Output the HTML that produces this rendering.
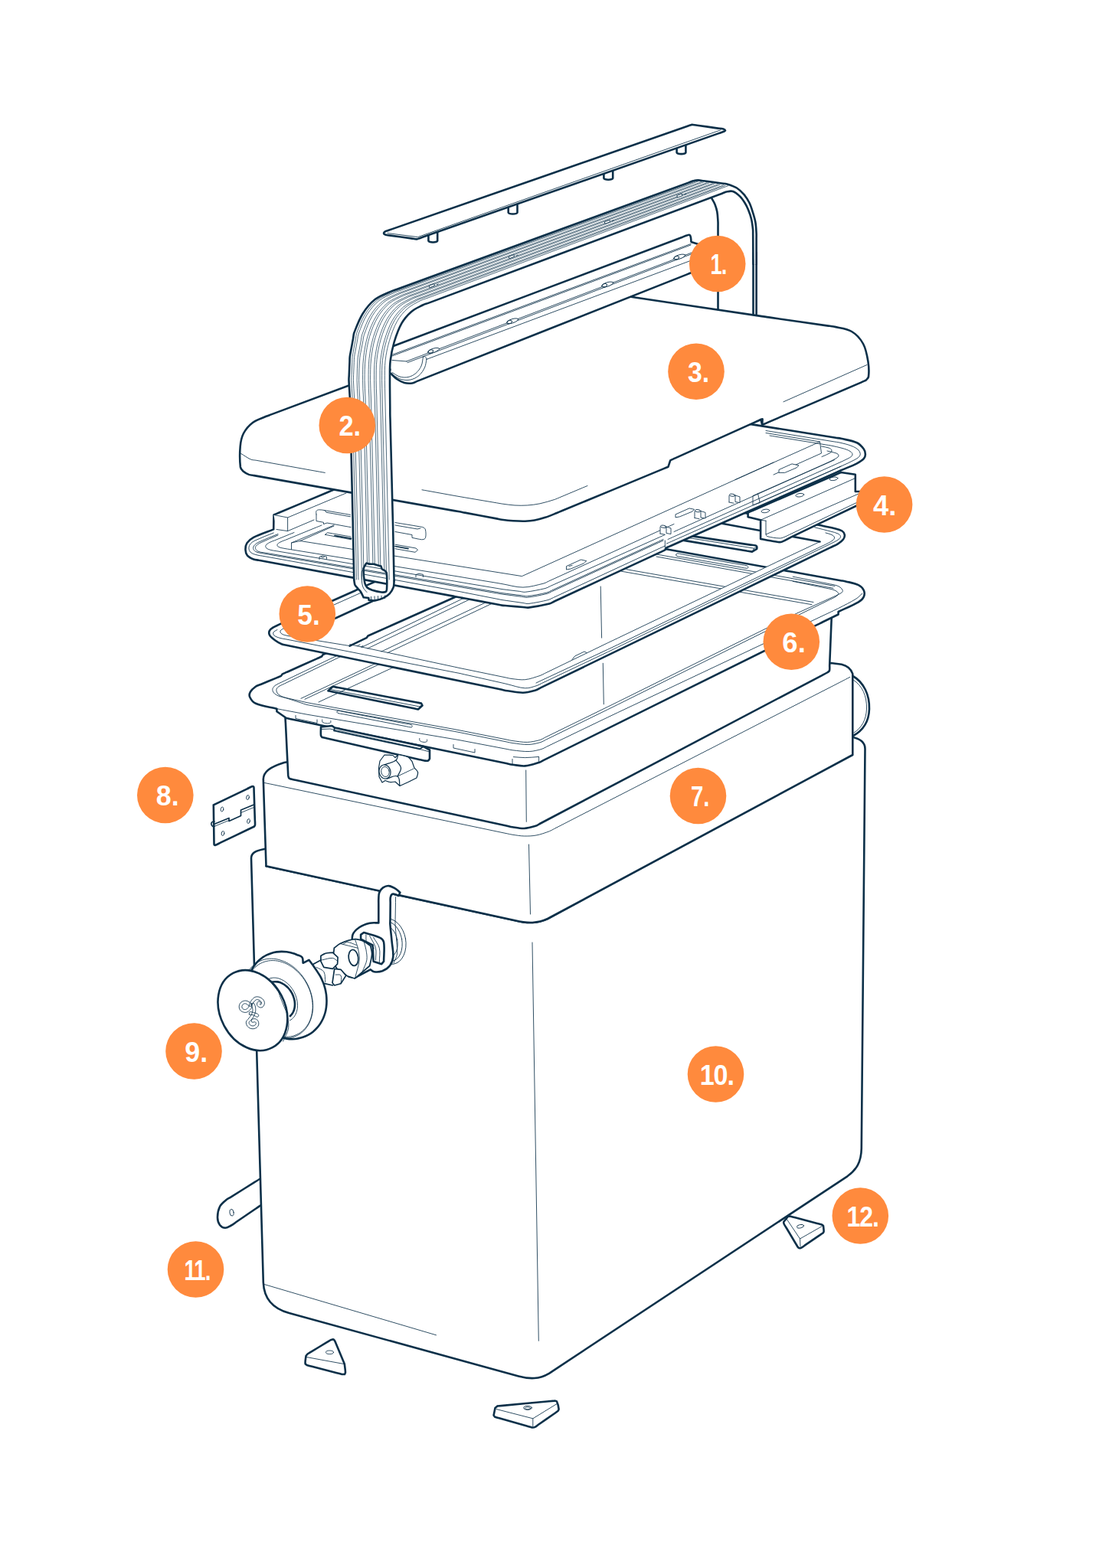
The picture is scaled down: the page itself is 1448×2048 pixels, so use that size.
<!DOCTYPE html>
<html lang="en">
<head>
<meta charset="utf-8">
<title>Exploded view</title>
<style>
html,body{margin:0;padding:0;background:#fff;}
body{width:1448px;height:2048px;overflow:hidden;font-family:"Liberation Sans",sans-serif;}
svg{display:block;}
.k{stroke:#0c3049;stroke-width:2.6;fill:none;stroke-linecap:round;stroke-linejoin:round;}
.m{stroke:#0c3049;stroke-width:1.7;fill:none;stroke-linecap:round;stroke-linejoin:round;}
.t{stroke:#0c3049;stroke-width:0.85;fill:none;stroke-linecap:round;stroke-linejoin:round;}
.r{stroke:#0c3049;stroke-width:0.7;fill:none;stroke-linecap:round;stroke-linejoin:round;}
.h{stroke:#0c3049;stroke-width:1.2;fill:none;stroke-linecap:round;stroke-linejoin:round;}
.w{fill:#fff;}
.d{fill:#0c3049;}
.nf{stroke:none;fill:#fff;}
.dot{fill:#ff8a3d;}
.num{font-family:"Liberation Sans",sans-serif;font-weight:700;font-size:37px;fill:#fff;text-anchor:middle;}
</style>
</head>
<body>
<svg width="1448" height="2048" viewBox="0 0 1448 2048">
<rect x="0" y="0" width="1448" height="2048" fill="#fff"/>
<g id="tab11">
<path class="k w" d="M339,1540 C337,1541.2 335,1542.5 333.1,1543.7 C322.4,1550.4 311.6,1557.1 300.9,1563.8 C299,1565 296.8,1566 295,1567.5 C292.1,1570.1 288.7,1572.5 287,1576 C284.9,1580.3 284,1585.2 284,1590 C284,1593.5 285,1597.2 287,1600 C288.6,1602.1 291.3,1603.7 294,1603.8 C296.9,1603.9 299.4,1601.8 302,1600.5 C304.1,1599.4 305.9,1597.9 307.8,1596.5 C316.6,1590.5 325.4,1584.5 334.2,1578.5 C336.1,1577.1 338.1,1575.8 340,1574.5"/>
<ellipse class="t" cx="302.5" cy="1583.7" rx="2.6" ry="4.4" transform="rotate(-8 302.5 1583.7)"/>
</g>
<g id="body10">
<path class="k w" d="M345,1109 C334,1111 328,1114 328,1121 L343.8,1675 C344.5,1692 353,1708.5 377.5,1715 L677,1797.5 C692,1801.5 704,1801.5 717,1793.8 L1106.5,1536.3 C1118,1528 1124.5,1518 1124.8,1500 L1129.5,978 C1129.5,969 1123,964.5 1111,962.5 Z"/>
<path class="k" d="M347.5,1131.3 L672.5,1202.2 C690,1206.5 702,1206 715,1200 L1111,986.3"/>
<path class="t" d="M695,1231 L703.3,1751.3"/>
<path class="t" d="M345,1677.5 L569.5,1743.8"/>

<path class="t" d="M722,1193.3 L1111,983.6"/>
</g>
<g id="shell7">
<path class="k w" d="M347.5,1131.3 L343.8,1018 C344,1008 352,1002 371,996 L1085,866 L1098.8,867.8 C1106,869.5 1111,873 1113.3,880.2 L1113.3,986 L715,1200 C702,1206 690,1206.5 672.5,1202.2 Z"/>
<path class="k" d="M1113.5,883 C1128,891 1135.5,908 1135,926 C1134.5,942 1127,954 1114,961"/>
<path class="t" d="M1114,888 C1126,895.5 1132,909 1131.5,926 C1131,940 1125,951 1115,957"/>
<path class="t" d="M345.5,1022.5 C347.8,1023 350.1,1023.5 352.4,1023.9 C455.6,1045.5 558.9,1067.2 662.1,1088.8 C664.4,1089.2 666.7,1089.9 669,1090.2 C674.1,1090.9 679.2,1091.9 684.3,1092 C689.5,1092.1 694.8,1092 700,1091 C706,1089.9 711.7,1087.8 717.4,1085.7 C719.6,1084.9 721.6,1083.6 723.6,1082.5 C850.3,1017.5 976.9,952.6 1103.6,887.6 C1105.6,886.5 1107.7,885.5 1109.8,884.4"/>
<path class="t" d="M690.5,1103 L692.5,1194"/>
</g>
<g id="tray6">
<path class="k w" d="M372.5,937.5 C372.6,939.8 372.7,942.2 372.9,944.5 C373.9,965 374.9,985.5 375.9,1006 C376.1,1008.3 376,1010.7 376.3,1013 C376.5,1014.2 376.6,1015.6 377.5,1016.5 C378.4,1017.4 379.8,1017.5 381,1017.8 C383.3,1018.4 385.6,1018.8 387.8,1019.3 C479.3,1039.1 570.7,1058.9 662.2,1078.7 C664.4,1079.2 666.7,1079.9 669,1080.2 C674.1,1081 679.2,1082.2 684.3,1082 C689.4,1081.8 694.5,1080.3 699.4,1078.8 C701.6,1078.1 703.5,1076.6 705.6,1075.5 C828.3,1010.9 951.1,946.4 1073.8,881.8 C1075.9,880.7 1078,879.7 1080,878.5 C1081.1,877.8 1082.5,877.2 1082.9,876 C1083.6,873.8 1083.1,871.3 1083.2,869 C1083.9,851 1084.7,833 1085.4,815 C1085.5,812.7 1085.6,810.3 1085.7,808 L1080,790 C1077.7,789.5 1075.4,789 1073.2,788.5 C972.1,766.2 870.9,743.8 769.8,721.5 C767.6,721 765.3,720.5 763,720 C760.9,721 758.8,722.1 756.7,723.1 C639.9,781 523.1,839 406.3,896.9 C404.2,897.9 402.1,899 400,900 C398.6,901.9 397.2,903.8 395.9,905.6 C389.5,914.4 383,923.1 376.6,931.9 C375.3,933.7 373.9,935.6 372.5,937.5"/>
<path class="t" d="M686.7,1006 L687.3,1073.3"/>
<path class="k w" d="M1027,745.6 C1029.3,746 1031.6,746.4 1033.9,746.8 C1055.1,750.6 1076.2,754.4 1097.4,758.2 C1099.7,758.6 1102,758.8 1104.3,759.4 C1109.9,760.8 1115.7,761.6 1120.9,764.2 C1123.8,765.6 1126.5,768.1 1127.8,771.1 C1128.9,773.6 1128.9,776.9 1127.8,779.4 C1126.5,782.4 1123.7,784.6 1120.9,786.3 C1112.5,791.2 1103.4,794.8 1094.6,799 L1094.6,802.5 L1074,812.5 C1071.9,813.5 1069.8,814.6 1067.7,815.6 C948.4,874.7 829.2,933.8 709.9,992.9 C707.8,993.9 705.8,995.3 703.6,996 C697.7,997.8 691.8,999.9 685.6,1000.4 C680.1,1000.8 674.5,999.4 669,998.7 C666.7,998.4 664.4,997.8 662.1,997.3 C568.4,978 474.6,958.7 380.9,939.4 C378.6,938.9 376.3,938.5 374,938 L361.4,929.2 L361.4,925.7 C352.2,923.4 342.5,922.6 333.8,918.8 C330.4,917.3 327.8,913.9 326.2,910.5 C325.2,908.4 325.8,905.6 326.9,903.6 C328.5,900.8 331.2,898.6 333.8,896.7 C335.7,895.3 338.1,894.9 340.3,894 C347,891.2 353.8,888.4 360.5,885.6 C362.7,884.7 364.8,883.8 367,882.9 L368.5,880.6 C370.6,879.6 372.8,878.7 374.9,877.7 C387.8,871.9 400.7,866.2 413.6,860.4 C415.7,859.4 417.9,858.5 420,857.5 L421.5,855.2 C423.6,854.2 425.7,853.2 427.9,852.3 C537.5,801.8 647,751.4 756.6,700.9 C758.8,700 760.9,699 763,698 C765.3,698.4 767.6,698.8 769.9,699.2 C853.3,714.3 936.7,729.3 1020.1,744.4 C1022.4,744.8 1024.7,745.2 1027,745.6"/>
<path class="t" d="M361.4,925.7 C363.7,926.1 366,926.6 368.3,927 C376.6,928.6 384.8,930.1 393.1,931.7 C395.4,932.1 397.7,932.6 400,933 C402.3,933.4 404.6,933.8 406.9,934.2 C469,944.6 531,955.1 593.1,965.5 C595.4,965.9 597.7,966.3 600,966.7 C602.3,967.1 604.6,967.6 606.9,968 C625.3,971.5 643.7,975 662.1,978.5 C664.4,978.9 666.7,979.6 669,979.8 C676.4,980.6 683.8,981.8 691.2,981.5 C696.6,981.3 701.8,979.9 707,978.5 C709.3,977.9 711.2,976.5 713.3,975.5 C740.1,962.6 766.9,949.7 793.7,936.8 C795.8,935.8 797.9,934.8 800,933.8 C802.1,932.8 804.2,931.8 806.3,930.8 C900.3,886.4 994.3,842 1088.3,797.6 C1090.4,796.6 1092.5,795.7 1094.6,794.6 C1102.4,790.5 1110.5,786.7 1118,782 C1120.9,780.2 1123.1,777.5 1125.7,775.2"/>
<path class="t" d="M470,842 C467.9,843 465.8,844 463.7,845 C431.7,860.3 399.7,875.7 367.7,891 C365.6,892 363.4,892.8 361.4,894 C359.8,895 358.1,896 357,897.5 C356.2,898.6 355.7,900.1 355.9,901.5 C356.2,903.2 357.2,904.9 358.5,906 C360.3,907.6 362.7,908.6 365,909.5 C367.2,910.3 369.5,910.5 371.8,911.1 C378.9,912.7 386.1,914.3 393.2,915.9 C395.5,916.5 397.7,917 400,917.5 C402.3,918 404.6,918.3 406.9,918.8 C469,930 531,941.3 593.1,952.5 C595.4,953 597.7,953.4 600,953.8 C602.3,954.2 604.6,954.7 606.9,955.2 C625.3,958.8 643.7,962.5 662.1,966.1 C664.4,966.6 666.7,967.2 669,967.5 C675.4,968.3 681.9,969.6 688.4,969.4 C694,969.2 699.6,967.9 705,966.5 C707.3,965.9 709.2,964.4 711.3,963.4 C738.8,950 766.2,936.5 793.7,923.1 C795.8,922.1 797.9,921 800,920 C802.1,919 804.2,917.9 806.3,916.9 C881.9,879.5 957.5,842 1033.1,804.6 C1035.2,803.6 1037.3,802.5 1039.4,801.5 C1041.5,800.5 1043.7,799.6 1045.8,798.6 C1059.9,792.2 1074.1,785.9 1088.2,779.5 C1090.3,778.5 1092.5,777.7 1094.6,776.6 C1096.3,775.7 1098.1,774.9 1099.5,773.5 C1100.1,772.9 1100.5,771.9 1100.2,771.1 C1099.6,769.5 1098.4,768 1097,767 C1095.1,765.6 1092.8,764.9 1090.5,764.2 C1088.3,763.5 1085.9,763.3 1083.6,762.8 C1069.8,760 1055.9,757.3 1042.1,754.5 C1039.8,754 1037.5,753.6 1035.2,753.1"/>
<path class="t" d="M474,843.5 C471.9,844.5 469.8,845.5 467.7,846.5 C435.6,862 403.4,877.5 371.3,893 C369.2,894 367,894.8 365,896 C363.7,896.8 362.3,897.7 361.5,899 C360.9,900 360.7,901.4 361,902.5 C361.4,904.2 362.2,905.9 363.5,907 C365.3,908.6 367.7,909.5 370,910.5 C372.1,911.4 374.4,911.9 376.7,912.7 C382.2,914.5 387.8,916.3 393.3,918.1 C395.6,918.9 397.7,919.7 400,920.3 C402.3,920.9 404.6,921.1 406.9,921.6 C469,932.8 531,944.1 593.1,955.3 C595.4,955.8 597.7,956.2 600,956.6 C602.3,957 604.6,957.5 606.9,958 C625.3,961.7 643.7,965.4 662.1,969.1 C664.4,969.6 666.7,970.2 669,970.5 C675.9,971.3 682.8,972.7 689.8,972.5 C695.3,972.4 700.7,970.9 706,969.5 C708.3,968.9 710.2,967.4 712.3,966.4 C739.4,953.1 766.6,939.9 793.7,926.6 C795.8,925.6 797.9,924.5 800,923.5 C802.1,922.5 804.2,921.4 806.3,920.4 C881.1,883.3 955.9,846.2 1030.7,809.1 C1032.8,808.1 1034.9,807 1037,806 C1039.1,805 1041.2,803.9 1043.3,802.9 C1056.8,796.3 1070.2,789.7 1083.7,783.1 C1085.8,782.1 1088,781.2 1090,780 C1091.4,779.2 1092.9,778.3 1094,777 C1094.5,776.3 1094.9,775.2 1094.5,774.5 C1093.8,773.2 1092.4,772.2 1091,771.5 C1089.1,770.5 1087,770 1085,769.5 C1082.7,768.9 1080.4,768.6 1078.1,768.1 C1066.1,765.6 1054.1,763.2 1042.1,760.7 C1039.8,760.2 1037.5,759.8 1035.2,759.3"/>
<path class="t" d="M670.4,988.6 C675.5,988.9 680.5,989.6 685.6,989.6 C691.6,989.6 697.6,988.8 703.6,988.4"/>
<path class="t" d="M784.2,766 L785.6,833.1"/>
<path class="t" d="M787.3,866.3 L788.3,919.8"/>
<path class="t" d="M856.2,723.8 L1090,765.5"/>
<path class="t" d="M857,727 L1088,768.3"/>
<path class="t" d="M882.8,724.5 C883.2,723.9 883.3,722.8 884,722.8 C886.3,722.7 888.6,723.6 890.9,724 C916.6,728.5 942.4,733.1 968.1,737.6 C970.4,738 972.8,738 975,738.8 C975.9,739.2 977,740 977,741 C977,741.8 975.8,742.3 975,742.3 C972.7,742.3 970.4,741.5 968.1,741.1 C942.2,736.6 916.3,732 890.4,727.5 C888.1,727.1 885.7,727.2 883.5,726.3 C882.9,726.1 883,725.1 882.8,724.5"/>
<path class="t" d="M811.5,746.2 L1060,789.7"/>
<path class="t" d="M818,743.7 L1062,786.5"/>
<path class="k w" d="M428.5,902.3 L434.5,896.7 C436.8,897.1 439.1,897.6 441.4,898 C475.3,904.4 509.2,910.8 543.1,917.2 C545.4,917.6 547.7,918.1 550,918.5 L551.5,921.5 L546,926.5 C543.7,926 541.4,925.6 539.1,925.1 C504.5,918 470,910.8 435.4,903.7 C433.1,903.2 430.8,902.8 428.5,902.3"/>
<path class="t" d="M432,900.6 L548.2,923"/>
<path class="t" d="M546.5,926 L548.5,922.3 L551,921"/>
<path class="t" d="M393,912.3 L500,862"/>
<path class="t" d="M398,913.3 L505,863"/>
<path class="t" d="M416,917 L530,864"/>
<path class="t" d="M386,934.5 L386,938.5 L414,944.5 L414,940"/>
<path class="t" d="M420.7,940 C420.8,941 420.3,942.3 421,943 C422.3,944.2 424.2,944.6 426,944.8 C427.8,945 429.9,944.9 431.5,944 C432.2,943.6 431.7,942.3 431.8,941.5"/>
<path class="t" d="M440,929.8 C440.3,929.3 440.4,928.2 441,928.2 C443.3,928.1 445.6,929.1 447.9,929.5 C475.3,934.8 502.7,940 530.1,945.3 C532.4,945.7 534.8,945.7 537,946.6 C537.7,946.9 538.3,947.8 538.3,948.6 C538.3,949.2 537.6,950 537,950 C534.7,950 532.4,949.1 530.1,948.7 C502.7,943.4 475.3,938 447.9,932.7 C445.6,932.3 443.2,932.2 441,931.4 C440.4,931.2 440.3,930.3 440,929.8"/>
<path class="t" d="M592,972.5 L592,977 L620,983 L620,978.5"/>
<path class="t" d="M547.8,964.5 C547.9,965.5 547.5,966.8 548.2,967.5 C549.5,968.7 551.3,969.1 553,969.3 C554.4,969.5 556.1,969.4 557.3,968.5 C558,968 557.4,966.8 557.5,966"/>
<path class="t" d="M669,998.7 L669,991.5"/>
<path class="t" d="M703.6,996 L703.6,989"/>
<path class="k w" d="M419,949.5 C419,953.2 418.6,956.9 419,960.5 C419.1,961.5 420,962.2 420.5,963 C422.8,963.5 425,964 427.3,964.6 C467.3,973.7 507.2,982.8 547.2,991.9 C549.5,992.5 551.7,993.2 554,993.5 C555.7,993.7 557.4,994.1 559,993.5 C560,993.1 560.3,991.8 561,991 L561,979.5 L553,975 C550.7,974.5 548.4,974 546.2,973.6 C512.1,966.4 477.9,959.1 443.8,951.9 C441.6,951.5 439.3,951 437,950.5 L433.5,948 L419,949.5"/>
<path class="m" d="M437,950.5 L436,954.5 L548,978.5 L553,975"/>
<path class="t" d="M419,952.5 L431,952 L548,977.5"/>
<path class="t" d="M548,978.5 L561,982"/>
<path class="h w" d="M494.5,1003 L496,994 L502,986 C505.5,986.2 509.1,985.7 512.5,986.5 C514,986.9 514.8,988.5 516,989.5 L520,985.5 C524.3,986.7 529,987 533,989 C535.2,990.1 536.3,992.7 538,994.5 L541,1003 C542.5,1004.8 545,1006.2 545.5,1008.5 C546.1,1011 544.5,1013.5 544,1016 L533,1021.5 L522,1026.5 L516,1021 C513.7,1021.2 511.3,1021.8 509,1021.5 C506.9,1021.3 505,1020.2 503,1019.5 L499,1022 L495,1014.5 L494.5,1003"/>
<ellipse class="h w" cx="502.5" cy="1008" rx="7.4" ry="9.2" transform="rotate(-12 502.5 1008)"/>
<ellipse class="t" cx="503" cy="1008" rx="5.2" ry="6.6" transform="rotate(-12 503 1008)"/>
<path class="h" d="M502,998.8 C507,996.9 512.7,996.2 517,993 C519.2,991.4 519,988 520,985.5"/>
<path class="h" d="M505,1017.2 C509.7,1016.1 514.8,1011.7 519,1014 C522.8,1016.1 521,1022.3 522,1026.5"/>
<path class="h" d="M517,993 C519.2,996.3 523.1,999 523.5,1003 C523.9,1006.9 520.5,1010.3 519,1014"/>
<path class="t" d="M519,1014 L540,1004"/>
</g>
<g id="frame5">
<path class="nf" fill-rule="evenodd" d="M1000,674.5 C1002.3,674.9 1004.6,675.3 1006.9,675.6 C1025.8,678.7 1044.7,681.9 1063.6,685 C1065.9,685.3 1068.2,685.6 1070.5,686.1 C1076.9,687.4 1083.4,688.6 1089.8,690.2 C1093.1,691 1096.6,691.7 1099.5,693.5 C1101.2,694.6 1102.5,696.5 1102.8,698.5 C1103.1,700.6 1102.2,702.8 1101,704.5 C1099.2,706.9 1096.6,708.7 1094,710.3 C1091,712.2 1087.5,713.5 1084.3,715.1 C1082.2,716.1 1080.1,717.1 1078,718.2 C953.9,778.3 829.8,838.3 705.7,898.4 C703.6,899.5 701.7,900.9 699.4,901.5 C694,903 688.5,904.6 682.9,904.7 C676,904.8 669.1,903.2 662.2,902.2 C659.9,901.9 657.6,901.3 655.3,900.8 C561.9,881.5 468.6,862.2 375.2,842.9 C372.9,842.4 370.5,842.4 368.3,841.5 C364.9,840.1 361.6,838.2 358.7,836 C356.1,834 353,832.1 351.8,829.1 C350.9,826.9 351.5,823.9 353.1,822.2 C356.5,818.8 361.4,817.4 365.6,815.2 C367.7,814.1 369.9,813.3 372,812.3 C402.7,798.6 433.5,784.9 464.2,771.2 C466.3,770.2 468.5,769.3 470.6,768.3 C472.7,767.3 474.9,766.4 477,765.4 C571.5,723.2 666.1,681.1 760.6,638.9 C762.7,637.9 764.9,637 767,636 C769.3,636.4 771.6,636.8 773.9,637.1 C847,649.2 920,661.3 993.1,673.4 C995.4,673.7 997.7,674.1 1000,674.5 Z M940,683.2 C942.3,683.6 944.6,684.1 946.9,684.5 C985.8,691.7 1024.7,699 1063.6,706.2 C1065.9,706.6 1068.2,707.1 1070.5,707.5 C1068.4,708.5 1066.3,709.5 1064.2,710.5 C1051.6,716.4 1038.9,722.4 1026.3,728.3 C1024.2,729.3 1022.1,730.3 1020,731.3 C1017.9,732.3 1015.8,733.3 1013.7,734.3 C944.6,767.4 875.4,800.5 806.3,833.6 C804.2,834.6 802.1,835.6 800,836.6 C797.9,837.6 795.8,838.6 793.7,839.6 C766.2,852.9 738.8,866.2 711.3,879.5 C709.2,880.5 707.2,881.8 705,882.5 C698.6,884.5 692.3,887 685.6,887.7 C679.8,888.3 673.8,887.1 668,886.5 C665.7,886.3 663.4,885.6 661.1,885.1 C643,881.4 625,877.6 606.9,873.9 C604.6,873.4 602.3,873 600,872.5 C597.7,872 595.4,871.5 593.2,871 C550,861.7 506.7,852.5 463.5,843.2 C461.3,842.7 459,842.2 456.7,841.7 C458.8,840.7 460.9,839.7 463,838.7 C574.6,786.8 686.1,734.9 797.7,683 C799.8,682 801.9,681 804,680 C806.3,679.5 808.6,679.1 810.9,678.6 C825,675.7 839,672.8 853.1,669.9 C855.4,669.4 857.7,669 860,668.5 C862.3,668.9 864.6,669.3 866.9,669.8 C889,673.8 911,677.9 933.1,681.9 C935.4,682.4 937.7,682.8 940,683.2 Z"/>
<path class="k" d="M1000,674.5 C1002.3,674.9 1004.6,675.3 1006.9,675.6 C1025.8,678.7 1044.7,681.9 1063.6,685 C1065.9,685.3 1068.2,685.6 1070.5,686.1 C1076.9,687.4 1083.4,688.6 1089.8,690.2 C1093.1,691 1096.6,691.7 1099.5,693.5 C1101.2,694.6 1102.5,696.5 1102.8,698.5 C1103.1,700.6 1102.2,702.8 1101,704.5 C1099.2,706.9 1096.6,708.7 1094,710.3 C1091,712.2 1087.5,713.5 1084.3,715.1 C1082.2,716.1 1080.1,717.1 1078,718.2 C953.9,778.3 829.8,838.3 705.7,898.4 C703.6,899.5 701.7,900.9 699.4,901.5 C694,903 688.5,904.6 682.9,904.7 C676,904.8 669.1,903.2 662.2,902.2 C659.9,901.9 657.6,901.3 655.3,900.8 C561.9,881.5 468.6,862.2 375.2,842.9 C372.9,842.4 370.5,842.4 368.3,841.5 C364.9,840.1 361.6,838.2 358.7,836 C356.1,834 353,832.1 351.8,829.1 C350.9,826.9 351.5,823.9 353.1,822.2 C356.5,818.8 361.4,817.4 365.6,815.2 C367.7,814.1 369.9,813.3 372,812.3 C402.7,798.6 433.5,784.9 464.2,771.2 C466.3,770.2 468.5,769.3 470.6,768.3 C472.7,767.3 474.9,766.4 477,765.4 C571.5,723.2 666.1,681.1 760.6,638.9 C762.7,637.9 764.9,637 767,636 C769.3,636.4 771.6,636.8 773.9,637.1 C847,649.2 920,661.3 993.1,673.4 C995.4,673.7 997.7,674.1 1000,674.5"/>
<path class="t" d="M1070.5,707.5 C1068.4,708.5 1066.3,709.5 1064.2,710.5 C1051.6,716.4 1038.9,722.4 1026.3,728.3 C1024.2,729.3 1022.1,730.3 1020,731.3 C1017.9,732.3 1015.8,733.3 1013.7,734.3 C944.6,767.4 875.4,800.5 806.3,833.6 C804.2,834.6 802.1,835.6 800,836.6 C797.9,837.6 795.8,838.6 793.7,839.6 C766.2,852.9 738.8,866.2 711.3,879.5 C709.2,880.5 707.2,881.8 705,882.5 C698.6,884.5 692.3,887 685.6,887.7 C679.8,888.3 673.8,887.1 668,886.5 C665.7,886.3 663.4,885.6 661.1,885.1 C643,881.4 625,877.6 606.9,873.9 C604.6,873.4 602.3,873 600,872.5 C597.7,872 595.4,871.5 593.2,871 C550,861.7 506.7,852.5 463.5,843.2 C461.3,842.7 459,842.2 456.7,841.7"/>
<path class="k" d="M940,683.2 L1070.5,707.5"/>
<path class="k" d="M456.7,843.6 L478.5,833.2 L480.5,830.5 L595,779.5 L640,758"/>
<path class="t" d="M362,822.5 C360.3,823.7 358,824.2 357,826 C356.4,827.2 356.9,829.1 358,830 C360.2,831.9 363.2,832.6 366,833.5 C368.2,834.2 370.6,834.4 372.9,834.8 C446.3,849.2 519.7,863.7 593.1,878.1 C595.4,878.5 597.7,878.9 600,879.4 C602.3,879.9 604.6,880.4 606.8,881 C622.9,884.6 639.1,888.3 655.2,891.9 C657.4,892.5 659.7,893 662,893.5 C669.9,895.3 677.5,898.4 685.6,898.8 C690.8,899.1 696,897 701,895.5 C703.2,894.8 705.2,893.5 707.3,892.5 C736.1,878.8 764.9,865.2 793.7,851.5 C795.8,850.5 797.9,849.5 800,848.5 C802.1,847.5 804.2,846.5 806.3,845.4 C896.4,801.6 986.6,757.9 1076.7,714.1 C1078.8,713 1080.9,712.1 1083,711 C1087,708.9 1091.3,707.2 1095,704.5 C1096.3,703.6 1097.7,702.1 1097.5,700.5 C1097.3,698.9 1095.5,697.7 1094,697 C1091.2,695.6 1088,695 1085,694.2 C1077.9,692.3 1070.7,690.6 1063.6,688.8"/>
<path class="t" d="M372,820 C370,821.3 367.1,821.9 366,824 C365.3,825.3 366.8,827.2 368,828 C370.3,829.5 373.3,829.8 376,830.5 C378.3,831.1 380.6,831.2 382.9,831.6 C405.2,835.2 427.5,838.9 449.8,842.5 C452.1,842.9 454.4,843.2 456.7,843.6"/>
<path class="t" d="M700,892 C702.1,891 704.2,890 706.3,889 C735.4,875.4 764.6,861.8 793.7,848.2 C795.8,847.2 797.9,846.2 800,845.2 C802.1,844.2 804.2,843.2 806.3,842.2 C894.1,799.8 981.9,757.4 1069.7,715 C1071.8,714 1073.9,713.1 1076,712 C1079.7,710.1 1083.6,708.5 1087,706 C1088.3,705.1 1089.7,703.6 1089.5,702 C1089.3,700.4 1087.5,699.3 1086,698.5 C1083.5,697.2 1080.7,696.8 1078,696"/>
<path class="t" d="M747,861.5 L750.5,857 L763,851 L766,852.5"/>
<path class="k w" d="M893,698.6 C895.3,698.9 897.6,699.3 899.9,699.6 C926.5,703.6 953,707.6 979.6,711.6 C981.9,711.9 984.3,712 986.5,712.6 C987.2,712.8 987.9,713.3 988.2,714 C988.6,714.9 988.2,715.9 988.2,716.8 L982,720.6 C979.7,720.2 977.4,719.8 975.1,719.5 C949.2,715.2 923.3,710.9 897.4,706.6 C895.1,706.3 892.8,705.9 890.5,705.5"/>
<path class="t" d="M893,701.5 L984.5,716.2 L988,714.5"/>
<path class="t" d="M984.5,716.2 L982.5,720"/>
<path class="k" d="M437.4,807.7 L505.1,776.6"/>
<path class="t" d="M436,790 L474,773"/>
<path class="t" d="M472,845.5 L606,781"/>
<path class="t" d="M480,847 L614,782.5"/>
<path class="t" d="M498,851 L636,786"/>
<path class="t" d="M506,852.7 L644,787.5"/>
</g>
<g id="bracket4">
<path class="k w" d="M976.6,669.5 L976.6,675.3 L993.1,679.2 L993.1,704 C1000.7,705.3 1008.3,707 1016,708 C1017.7,708.2 1019.4,708.2 1021,707.6 C1025.3,705.9 1029.1,703.4 1033.2,701.3 C1035.3,700.3 1037.4,699.3 1039.5,698.3 C1067.6,684.9 1095.6,671.4 1123.7,658 C1125.8,657 1127.9,656 1130,655 L1130,642 L1116.8,641.9 L1116.8,619.8 L1098.1,617 C1096,617.9 1093.8,618.9 1091.7,619.8 C1055.5,635.4 1019.2,651.1 983,666.7 C980.9,667.6 978.7,668.6 976.6,669.5"/>
<path class="t" d="M993.1,679.2 L1116.8,624.5"/>
<path class="t" d="M1000,680.2 L1000,698 L1130,641"/>
<path class="t" d="M1000,680.2 L993.1,679.2"/>
<path class="t" d="M1000,698 C1000.5,698.8 1000.6,700.2 1001.5,700.5 C1006.9,702 1012.4,702.8 1018,703 C1020.1,703.1 1022.1,702.2 1024,701.5 C1026.2,700.7 1028.2,699.5 1030.3,698.5 C1061.4,683.7 1092.6,668.8 1123.7,654 C1125.8,653 1127.9,652 1130,651"/>
<ellipse class="t" cx="999.4" cy="667.4" rx="5.4" ry="2.2" transform="rotate(-8 999.4 667.4)"/>
<ellipse class="t" cx="1044.3" cy="646.7" rx="5.4" ry="2.2" transform="rotate(-8 1044.3 646.7)"/>
<ellipse class="t" cx="1088.5" cy="625.3" rx="5.4" ry="2.2" transform="rotate(-8 1088.5 625.3)"/>
</g>
<g id="frame4">
<path class="k w" d="M972,552.8 C974.3,553.2 976.6,553.5 978.9,553.9 C1016.3,559.8 1053.8,565.8 1091.2,571.7 C1093.5,572.1 1095.8,572.3 1098.1,572.8 C1105,574.5 1112.3,575.3 1118.8,578.3 C1122.5,580 1125.4,583.3 1127.8,586.6 C1129.2,588.5 1129.9,591.1 1129.9,593.5 C1129.9,595.5 1129.2,597.6 1127.8,599.1 C1125.3,601.8 1122,603.6 1118.8,605.3 C1112.1,608.7 1105,611.3 1098.1,614.3 C1096,615.2 1093.8,616.2 1091.7,617.1 C1020.1,648.9 948.4,680.7 876.8,712.5 C874.7,713.4 872.5,714.4 870.4,715.3 L868.3,718.3 C866.2,719.3 864.1,720.3 862,721.3 C815.9,742.7 769.8,764.1 723.7,785.5 C721.6,786.5 719.7,788 717.4,788.5 C708.3,790.7 699.1,792.4 689.8,793.6 C687.5,793.9 685.2,793.2 682.8,793 C675.9,792.4 669.1,791.8 662.2,791.2 C659.8,791 657.5,790.9 655.2,790.6 C652.9,790.3 650.6,789.7 648.3,789.3 C634.5,786.7 620.7,784.1 606.9,781.5 C604.6,781.1 602.3,780.6 600,780.2 C597.7,779.8 595.4,779.4 593.1,778.9 C508.1,763.2 423,747.5 338,731.8 C335.7,731.3 333.3,731.4 331.1,730.5 C328.2,729.3 325.1,728 323,725.6 C321.3,723.6 320.6,720.7 320.5,718.1 C320.4,715.1 320.8,711.9 322.4,709.4 C324.5,706.2 327.7,703.7 331.1,701.9 C339.4,697.6 348.5,694.9 357.2,691.4 L357.5,672.5 C359.7,671.6 361.8,670.7 364,669.8 C385.7,660.7 407.3,651.6 429,642.5 C431.2,641.6 433.3,640.7 435.5,639.8 C437.7,639.1 440,638.5 442.2,637.8 C525.9,612.5 609.6,587.3 693.3,562 C695.5,561.3 697.8,560.7 700,560 C702.3,559.9 704.7,559.9 707,559.8 C793,557.5 879,555.3 965,553 C967.3,552.9 969.7,552.9 972,552.8"/>
<path class="t" d="M357.2,696 C349.1,699.3 340.8,702.2 333,706 C330.5,707.2 328.1,708.8 326.5,711 C325.3,712.7 324.7,715 325,717 C325.3,718.9 326.4,720.9 328,722 C330.3,723.7 333.3,724.2 336,725 C338.2,725.6 340.6,725.8 342.9,726.2 C426.3,741.3 509.7,756.3 593.1,771.4 C595.4,771.8 597.7,772.2 600,772.6 C602.3,773 604.6,773.5 606.9,774 C620.6,776.7 634.4,779.4 648.1,782.1 C650.4,782.6 652.7,783.1 655,783.5 C657.3,783.9 659.6,784.2 661.9,784.5 C668.9,785.5 675.9,786.5 682.9,787.5 C685.2,787.8 687.5,788.8 689.8,788.5 C698.6,787.4 707.4,785.6 716,783.5 C718.3,782.9 720.2,781.5 722.4,780.6 C768.9,759 815.4,737.5 861.9,715.9 C864.1,715 866.2,714 868.3,713"/>
<path class="t" d="M363,697.5 C354.7,701 346.1,704 338,708 C335.5,709.2 333.1,710.8 331.5,713 C330.6,714.2 330.4,716.1 331,717.5 C331.7,719.1 333.4,720.3 335,721 C337.8,722.2 341,722.4 344,723 C346.3,723.5 348.6,723.8 350.9,724.2 C431.6,737.9 512.4,751.7 593.1,765.4 C595.4,765.8 597.7,766.2 600,766.6 C602.3,767 604.6,767.4 606.9,767.8 C620.6,770.1 634.4,772.5 648.1,774.8 C650.4,775.2 652.7,775.7 655,776 C657.3,776.3 659.6,776.6 661.9,776.9 C668.4,777.7 675,778.6 681.5,779.4 C683.8,779.7 686.1,780.6 688.4,780.3 C697,779.3 705.6,777.5 714,775.5 C716.3,775 718.2,773.6 720.4,772.6 C766.8,751.4 813.2,730.1 859.6,708.9 C861.8,707.9 863.9,707 866,706"/>
<path class="t" d="M363,699 C355.3,702.3 347.5,705.3 340,709 C337.8,710.1 335.4,711.5 334,713.5 C333.2,714.6 333.3,716.3 334,717.5 C334.8,718.9 336.4,719.9 338,720.5 C340.5,721.5 343.3,721.5 346,722 C348.3,722.4 350.6,722.8 352.9,723.2 C433,736.7 513,750.3 593.1,763.8 C595.4,764.2 597.7,764.6 600,765 C602.3,765.4 604.6,765.8 606.9,766.2 C620.6,768.6 634.4,770.9 648.1,773.3 C650.4,773.7 652.7,774.2 655,774.5 C657.3,774.8 659.6,775.1 661.9,775.4 C668.4,776.2 675,777 681.5,777.8 C683.8,778.1 686.1,779 688.4,778.7 C697,777.7 705.6,776 714,774 C716.3,773.5 718.2,772.1 720.4,771.1 C766.8,749.9 813.2,728.6 859.6,707.4 C861.8,706.4 863.9,705.5 866,704.5"/>
<path class="t" d="M384,695.5 C381.8,696.4 379.7,697.3 377.5,698.1 C371.2,700.7 364.8,703.3 358.5,705.9 C356.3,706.7 354,707.3 352,708.5 C350.2,709.6 348,710.6 347,712.5 C346.4,713.6 347.1,715.2 348,716 C349.6,717.4 351.9,717.9 354,718.5 C356.2,719.1 358.6,719.3 360.9,719.7 C438.3,732.8 515.7,745.9 593.1,759 C595.4,759.4 597.7,759.8 600,760.2 C602.3,760.6 604.6,761 606.9,761.4 C620.6,763.7 634.4,766 648.1,768.3 C650.4,768.7 652.7,769.2 655,769.5 C657.3,769.8 659.6,770.1 661.9,770.4 C667.5,771.1 673.1,771.7 678.7,772.4 C681,772.7 683.3,773.6 685.6,773.3 C694.5,772.3 703.3,770.5 712,768.5 C714.3,768 716.3,766.6 718.4,765.6 C766.1,744.2 813.9,722.8 861.6,701.4 C863.7,700.4 865.9,699.5 868,698.5"/>
<path class="t" d="M420,686 C417.8,686.9 415.7,687.8 413.5,688.6 C399.8,694.2 386.2,699.8 372.5,705.4 C370.3,706.2 368,706.8 366,708 C364.5,708.9 362.5,709.8 362,711.5 C361.6,712.6 362.9,714 364,714.5 C366.5,715.7 369.3,715.9 372,716.5 C374.3,717 376.6,717.2 378.9,717.6 C450.3,729.1 521.7,740.7 593.1,752.2 C595.4,752.6 597.7,752.9 600,753.3 C602.3,753.7 604.6,754.1 606.9,754.5 C620.6,756.8 634.4,759 648.1,761.3 C650.4,761.7 652.7,762.1 655,762.5 C664.3,764 673.5,767.2 682.9,767.1 C692.1,767 701.1,764.1 710,762 C712.3,761.5 714.2,760.1 716.4,759.1 C768.8,735.2 821.2,711.3 873.6,687.4 C875.8,686.4 877.9,685.5 880,684.5"/>
<path class="t" d="M392,706.5 L681.5,752.6 L1010,604"/>
<path class="t" d="M392,706.5 L436,687"/>
<path class="t" d="M870.4,710 C872.5,709.1 874.7,708.1 876.8,707.2 C948.4,675.4 1020,643.6 1091.6,611.8 C1093.7,610.9 1095.9,610 1098,609 C1104,606.2 1110.3,603.8 1116,600.5 C1118.7,599 1121.9,597.4 1123,594.5 C1123.8,592.4 1122.5,589.7 1121,588 C1118.6,585.4 1115.3,583.8 1112,582.5 C1106.9,580.4 1101.4,579.3 1096,578 C1093.7,577.4 1091.4,577.3 1089.1,576.9 C1061.7,572.5 1034.3,568 1006.9,563.6 C1004.6,563.2 1002.3,562.9 1000,562.5"/>
<path class="t" d="M872,704.5 C874.1,703.5 876.3,702.6 878.4,701.6 C947.5,670.7 1016.5,639.8 1085.6,608.9 C1087.7,607.9 1089.9,607 1092,606 C1097.3,603.5 1102.9,601.4 1108,598.5 C1109.9,597.4 1112.5,596.2 1113,594 C1113.4,592.2 1111.5,590.5 1110,589.5 C1107,587.5 1103.4,586.5 1100,585.5 C1095.1,584 1090,583.1 1085,582 C1082.7,581.5 1080.4,581.3 1078.1,580.9 C1056,577.3 1034,573.7 1011.9,570.1 C1009.6,569.7 1007.3,569.4 1005,569"/>
<path class="t" d="M880,694.5 C882.1,693.5 884.3,692.6 886.4,691.6 C948.1,663.9 1009.9,636.1 1071.6,608.4 C1073.7,607.4 1075.9,606.5 1078,605.5 C1082.7,603.2 1087.6,601.2 1092,598.5 C1093.3,597.7 1095,596.5 1095,595 C1095,593.6 1093.3,592.5 1092,592 C1088.2,590.5 1084,590 1080,589"/>
<path class="t" d="M868.3,718.3 L868.3,706"/>
<path class="t" d="M960,626.5 L1070.5,577 L1072.5,592 L1010,620"/>
<path class="t" d="M1070.5,577 L1000,565.5"/>
<path class="t" d="M1072.5,583 C1075.7,583.7 1079,583.9 1082,585 C1083.6,585.6 1085.5,586.4 1086,588 C1086.4,589.3 1085.1,590.8 1084,591.5 C1080.6,593.7 1076.7,594.8 1073,596.5"/>
<path class="t w" d="M862,697 l0,-8.5 c0.5,-2.2 7,-2.6 8,-0.6 l0,8.6 l6,1 l0,-7.6 l-6,-1.9 M862,697 l6,1.2"/>
<ellipse class="t w" cx="866" cy="687.7" rx="3.6" ry="1.6" transform="rotate(8 866 687.7)"/>
<path class="t w" d="M907,676.5 l0,-8.5 c0.5,-2.2 7,-2.6 8,-0.6 l0,8.6 l6,1 l0,-7.6 l-6,-1.9 M907,676.5 l6,1.2"/>
<ellipse class="t w" cx="911" cy="667.2" rx="3.6" ry="1.6" transform="rotate(8 911 667.2)"/>
<path class="t w" d="M952,656 l0,-8.5 c0.5,-2.2 7,-2.6 8,-0.6 l0,8.6 l6,1 l0,-7.6 l-6,-1.9 M952,656 l6,1.2"/>
<ellipse class="t w" cx="956" cy="646.7" rx="3.6" ry="1.6" transform="rotate(8 956 646.7)"/>
<path class="t w" d="M739.5,743.6 l0,-4 l19,-8.6 l7.2,1.6 l-3,3 l-17,7.2 Z M743,739.5 l4,-1"/>
<path class="t w" d="M882,675.5 l0,-3.6 l18,-8 l6.5,1.4 l-2.6,2.8 l-16,6.6 Z"/>
<path class="t w" d="M1017,617 l0,-3.5 l17,-7.6 l9,2 l-3,3 l-15,6.4 Z"/>
<path class="t" d="M983,659.5 l0,-12 l6.5,-2.8 l2.6,11.5 Z M989.5,644.7 l100,-44 M992,656.2 l106,-47"/>
<path class="t w" d="M357.5,672.5 L375.6,676 L375.6,693.6 L361,691.5"/>
<path class="t" d="M375.6,676 L452,644"/>
<path class="t" d="M375.6,693.6 L410,679"/>
<path class="t" d="M413,672 C413,670.5 412.3,668.8 413,667.5 C413.6,666.4 415.2,665.9 416.5,665.8 C419,665.6 421.5,666.3 424,666.6 C426.3,667 428.6,667.4 430.9,667.8 C437.5,668.9 444,670.1 450.6,671.2 C452.9,671.6 455.2,672 457.5,672.4"/>
<path class="t" d="M413,672 L413,680.5 L422.5,682.3 L422.5,684.6 L427,683 C429.3,683.4 431.6,683.8 433.9,684.2 C439.6,685.3 445.4,686.3 451.1,687.4 C453.4,687.8 455.7,688.2 458,688.6"/>
<path class="t" d="M424,666.6 L426,669.2 L457.5,674.8"/>
<path class="t" d="M516,682.5 C518.3,682.9 520.6,683.3 522.9,683.7 C528.3,684.6 533.7,685.4 539.1,686.3 C541.4,686.7 543.7,687.1 546,687.5 C548.3,687.9 550.8,688 553,689 C554.2,689.6 555.3,690.7 555.5,692 C556.1,695.4 556.4,699.1 555.5,702.5 C555.1,703.8 553.4,704.5 552,704.7 C550,705 548,704.2 546,704 L538,702.3 L538,698.5 L516,694.5"/>
<path class="t" d="M516,686 L545,691 L549,690"/>
<path class="t" d="M424.5,698.3 L427.5,695.7 C429.8,696.1 432.1,696.5 434.4,696.9 C440,697.9 445.5,698.8 451.1,699.8 C453.4,700.2 455.7,700.6 458,701"/>
<path class="t" d="M424.5,698.3 C426.8,698.7 429.1,699.2 431.4,699.6 C438.1,700.9 444.9,702.2 451.6,703.5 C453.9,703.9 456.2,704.4 458.5,704.8"/>
<path class="m" d="M437,699.6 L458.5,703.4"/>
<path class="t" d="M516,711.2 L543,716 L545.5,718.3 L542,721.3 L516,716.7"/>
<path class="m" d="M516,713.5 L533,716.6"/>
<path class="t" d="M380.5,717.5 L380.5,709 L392,706.5"/>
<path class="t" d="M380.5,709 L436,686"/>
<path class="t" d="M417,730.5 l0,-3.2 l4,-1.2 l5.4,1 l0,3.4 M419.5,726.8 a2,1 0 1 0 4,0.6"/>
<path class="t" d="M543,753.7 l0,-3.2 l4,-1.2 l5.4,1 l0,3.4"/>
</g>
<g id="archR">
<path class="nf" d="M929,259 L937.5,290 L937.5,430 L988,430 L988,300 L975,262 L955,246 Z"/>
<path class="k" d="M929.4,259.4 C930.8,261.9 932.4,264.3 933.5,267 C934.7,270.1 935.7,273.2 936.3,276.5 C937.1,281 937.2,285.5 937.5,290 C937.6,292.3 937.5,294.7 937.5,297 C937.5,339 937.5,381 937.5,423 C937.5,425.3 937.5,427.7 937.5,430"/>
<path class="k" d="M987.6,330 L987.6,430"/>
<path class="k" d="M983.5,330 L983.5,430"/>
</g>
<g id="lid3">
<path class="k w" d="M782,381.5 C784.3,381.8 786.6,382.2 788.9,382.5 C857,392.6 925,402.8 993.1,412.9 C995.4,413.2 997.7,413.6 1000,413.9 C1002.3,414.2 1004.6,414.6 1006.9,414.9 C1031.8,418.5 1056.6,422 1081.5,425.6 C1083.8,425.9 1086.1,426.1 1088.4,426.6 C1096.3,428.5 1105,428.9 1112,433 C1118.3,436.7 1123.5,442.6 1127,449 C1130.9,456.2 1132.2,464.5 1133.5,472.6 C1134.5,479 1134.8,485.6 1134,492 C1133.8,494 1131.7,495.2 1130.5,496.8 C1128.4,497.7 1126.2,498.6 1124.1,499.6 C1083.3,517.1 1042.4,534.6 1001.6,552.1 C999.5,553.1 997.3,554 995.2,554.9 L993.4,548 C991.3,549 989.1,549.9 987,550.9 C951.9,566.7 916.7,582.6 881.6,598.4 C879.5,599.4 877.3,600.3 875.2,601.3 L872.5,609.7 C870.3,610.6 868.2,611.5 866,612.4 C821.8,630.7 777.7,649 733.5,667.3 C731.3,668.2 729.2,669.1 727,670 C722,672 717.1,674.1 712,675.8 C707.4,677.3 702.7,678.6 698,679.5 C693.9,680.3 689.8,680.6 685.6,680.7 C680.4,680.8 675.2,680.6 670,680.3 C665,680 660.1,679.4 655.2,678.7 C652.9,678.4 650.6,677.8 648.3,677.4 C634.5,674.8 620.7,672.2 606.9,669.6 C604.6,669.2 602.3,668.7 600,668.3 C597.7,667.9 595.4,667.5 593.1,667.1 C506,651.8 419,636.4 331.9,621.1 C329.6,620.7 327.2,620.7 325,619.9 C322.3,618.8 319.7,617.4 317.5,615.5 C315.9,614 314.2,612.2 313.9,610 C312.9,601.1 312.9,592 313.7,583 C314.2,577.2 315.3,571.2 318,566 C320.9,560.6 325.1,555.7 330,552 C335.1,548.1 341.6,546.4 347.5,543.8 C349.6,542.9 351.9,542.2 354.1,541.4 C494.5,488.9 635,436.4 775.4,383.9 C777.6,383.1 779.8,382.3 782,381.5"/>
<path class="k" d="M995.2,554.9 L995.6,547.2 L993.4,548"/>
<path class="t" d="M314.5,592.3 C318.8,594.9 322.8,597.9 327.3,600 C329.4,601 331.9,600.8 334.2,601.2 C361.9,606.2 389.7,611.2 417.4,616.2 C419.7,616.6 422,617 424.3,617.4"/>
<path class="t" d="M551,639.8 C553.3,640.2 555.6,640.6 557.9,641 C569.6,643.1 581.4,645.3 593.1,647.4 C595.4,647.8 597.7,648.2 600,648.6 C602.3,649 604.6,649.4 606.9,649.8 C620.7,652.1 634.5,654.5 648.3,656.8 C650.6,657.2 652.9,657.7 655.2,658 C660.8,658.7 666.4,659.7 672,660 C677.5,660.3 682.9,660.4 688.4,660 C694,659.6 699.5,659 705,657.8 C711.5,656.4 717.9,654.4 724.3,652.4 C726.5,651.7 728.6,650.6 730.8,649.7 C740.7,645.5 750.6,641.4 760.5,637.2 C762.7,636.3 764.8,635.4 767,634.5"/>
<path class="t" d="M1132,476.5 L1023,524.8"/>
</g>
<g id="light1">
<path class="k w" d="M511,453 C513.2,452.2 515.4,451.4 517.5,450.5 C642,403.6 766.5,356.6 891,309.7 C893.1,308.8 895.3,307.8 897.5,307.2 C898.5,306.9 899.6,306.5 900.5,307 C901.3,307.4 901.6,308.6 901.8,309.5 C902.3,311.6 902.3,313.8 902.5,316 L915,320 C915,322.3 915,324.7 915,327 C915,333 915,339 915,345 C915,347.3 915,349.7 915,352 L903,356 C900.8,356.9 898.7,357.7 896.5,358.6 C779.2,405 662,451.5 544.7,497.9 C542.5,498.8 540.5,500.2 538.2,500.5 C534.8,500.9 531.3,500.9 528,500 C524.4,499 521.1,497.1 518,495 C515.2,493.1 513,490.3 510.5,488"/>
<path class="t" d="M512.5,463.2 L902,318.5"/>
<path class="t" d="M512.5,464.8 L902,320"/>
<path class="t" d="M530.8,471.9 L905,329.3"/>
<path class="t" d="M532,473.6 L905,331"/>
<path class="t" d="M557,469.3 L905,339.2"/>
<path class="t" d="M512,470.5 L531,472"/>
<path class="t" d="M557,469 C556.2,472.7 556.1,476.6 554.5,480 C552.7,483.9 550.3,487.7 547,490.5 C543.9,493.2 540,495.1 536,496 C532.1,496.9 527.9,496.5 524,495.5 C520.4,494.6 517.3,492.2 514,490.5"/>
<path class="t" d="M552.5,466 C551.7,470 551.7,474.3 550,478 C548.4,481.6 546,484.9 543,487.5 C540.2,489.9 536.6,491.7 533,492.5 C529.4,493.3 525.5,493 522,492 C518.3,491 515.3,488.3 512,486.5"/>
<path class="t" d="M552.5,466 C553.3,465.9 554.3,465.1 555,465.6 C556.1,466.3 556.3,467.9 557,469"/>
<ellipse class="t w" cx="566" cy="457.8" rx="8" ry="2.6" transform="rotate(-18 566 457.8)"/>
<ellipse class="t" cx="562.5" cy="459" rx="3.2" ry="2.2" transform="rotate(-18 562.5 459)"/>
<ellipse class="t w" cx="669" cy="419.3" rx="8" ry="2.6" transform="rotate(-18 669 419.3)"/>
<ellipse class="t" cx="665.5" cy="420.5" rx="3.2" ry="2.2" transform="rotate(-18 665.5 420.5)"/>
<ellipse class="t w" cx="793" cy="371.5" rx="8" ry="2.6" transform="rotate(-18 793 371.5)"/>
<ellipse class="t" cx="789.5" cy="372.7" rx="3.2" ry="2.2" transform="rotate(-18 789.5 372.7)"/>
<ellipse class="t w" cx="887" cy="335.5" rx="8" ry="2.6" transform="rotate(-18 887 335.5)"/>
<ellipse class="t" cx="883.5" cy="336.7" rx="3.2" ry="2.2" transform="rotate(-18 883.5 336.7)"/>
</g>
<g id="arch2">
<path class="nf" fill-rule="evenodd" d="M462.2,757 L460.7,680 L456.8,519 L455.5,496.7 L456.8,465.7 L462.4,434.6 L473.6,409.7 L489.7,391.1 L510.5,380.6 L906,236 L912,235.4 L949.4,240.4 L962,245.5 L971.5,254.2 L978.5,265 L982.6,276.3 L986.3,290 L987.6,305 L987.6,345 L983.5,345 L983.1,300 L981,286 L977,274 L972.5,265 L966,256.4 L957,250 L949.4,250.3 L551.9,398.5 L537,407.2 L524.5,422.2 L514.6,447 L509.6,471.9 L509,496 L509.3,540 L512.9,680 L514.6,758.7 L513.7,767 L508.7,775.3 L500.4,781.1 L489.7,784.4 L481.4,783.6 L474.7,780.3 L467.3,768.7 Z M476.5,738.5 C475.9,740 474.6,741.4 474.6,743 C474.5,748.7 475,754.4 476,760 C476.5,762.5 477.3,765.1 479,767 C480.8,768.9 483.5,769.9 486,770.8 C489.9,772.1 493.9,773 498,773.5 C499.8,773.7 501.9,773.8 503.5,773 C504.5,772.5 504.9,771.1 505,770 C505.4,762.7 505.6,755.3 504.7,748 C504.5,746.7 502.9,746 502,745 C501,744.5 499.7,744.4 499,743.5 C498.1,742.4 498,740.8 497.5,739.5 C496,739.1 494.5,738.7 493,738.3 C491.3,737.8 489.7,737.3 488,736.8 C486,736.7 484,736.9 482,736.6 C480.8,736.4 479.7,735.9 478.5,735.6 L476.5,738.5 Z"/>
<clipPath id="archclip"><path clip-rule="evenodd" d="M0,0 H1448 V2048 H0 Z M476.5,738.5 C475.9,740 474.6,741.4 474.6,743 C474.5,748.7 475,754.4 476,760 C476.5,762.5 477.3,765.1 479,767 C480.8,768.9 483.5,769.9 486,770.8 C489.9,772.1 493.9,773 498,773.5 C499.8,773.7 501.9,773.8 503.5,773 C504.5,772.5 504.9,771.1 505,770 C505.4,762.7 505.6,755.3 504.7,748 C504.5,746.7 502.9,746 502,745 C501,744.5 499.7,744.4 499,743.5 C498.1,742.4 498,740.8 497.5,739.5 C496,739.1 494.5,738.7 493,738.3 C491.3,737.8 489.7,737.3 488,736.8 C486,736.7 484,736.9 482,736.6 C480.8,736.4 479.7,735.9 478.5,735.6 L476.5,738.5 Z"/></clipPath>
<g clip-path="url(#archclip)">
<path class="r" d="M465.4,757 C465.4,754.7 465.3,752.3 465.3,750 C464.9,729 464.5,708 464,687 C464,684.7 464,682.3 463.9,680 C463.9,677.7 463.8,675.3 463.7,673 C462.6,624 461.4,575 460.2,526 C460.1,523.7 460.1,521.3 460,519 C459.7,511.6 459,504.1 458.8,496.7 C458.7,494.4 459,492 459.1,489.7 C459.3,484.2 459.5,478.6 459.8,473.1 C459.8,470.7 459.8,468.4 460,466.1 C460.3,463.8 460.9,461.5 461.3,459.2 C462.3,453.5 463.3,447.9 464.4,442.3 C464.8,440 464.8,437.5 465.6,435.4 C468.9,426.9 471.9,418.1 476.8,410.4 C481,403.5 486.3,397 492.7,391.9 C498.7,387.1 506.3,384.7 513.2,381.4 C515.3,380.4 517.6,379.8 519.8,379 C647.4,332.3 775,285.6 902.5,238.9 C904.7,238.1 906.9,237.3 909.1,236.5"/>
<path class="r" d="M468,757 C467.9,754.7 467.9,752.3 467.8,750 C467.4,729 467,708 466.6,687 C466.5,684.7 466.5,682.3 466.4,680 C466.4,677.7 466.3,675.3 466.3,673 C465.1,624 463.9,575 462.7,526 C462.7,523.7 462.7,521.3 462.6,519 C462.2,511.6 461.6,504.1 461.4,496.7 C461.3,494.4 461.6,492 461.6,489.7 C461.9,484.3 462.1,478.8 462.3,473.4 C462.4,471 462.3,468.7 462.6,466.4 C462.8,464 463.4,461.8 463.8,459.5 C464.9,453.9 465.9,448.4 466.9,442.8 C467.3,440.6 467.3,438.1 468.1,436 C471.4,427.4 474.4,418.7 479.2,410.9 C483.5,404.1 488.7,397.6 495,392.6 C501,387.8 508.5,385.4 515.3,382.1 C517.4,381.1 519.7,380.5 521.9,379.7 C649.6,332.9 777.3,286.1 905,239.3 C907.2,238.5 909.4,237.7 911.6,236.8"/>
<path class="r" d="M472.6,757 C472.5,754.7 472.5,752.3 472.4,750 C472,729 471.6,708 471.1,687 C471.1,684.7 471.1,682.3 471,680 C471,677.7 470.9,675.3 470.8,673 C469.7,624 468.5,575 467.3,526 C467.3,523.7 467.3,521.3 467.2,519 C466.8,511.6 466,504.1 466.1,496.7 C466.1,486.8 466.6,476.8 467.2,466.9 C467.4,464.6 468.1,462.3 468.5,460 C469.5,454.7 470.5,449.3 471.5,443.9 C471.9,441.6 471.9,439.2 472.7,437.1 C476,428.5 478.9,419.7 483.7,411.9 C487.9,405.1 493.1,398.7 499.3,393.7 C505.1,389 512.4,386.6 519.2,383.3 C521.3,382.3 523.5,381.7 525.7,380.9 C653.6,333.9 781.5,286.9 909.4,239.9 C911.6,239.1 913.8,238.3 916,237.5"/>
<path class="r" d="M475.1,757 C475.1,754.7 475,752.3 475,750 C474.5,729 474.1,708 473.7,687 C473.6,684.7 473.6,682.3 473.5,680 C473.5,677.7 473.4,675.3 473.4,673 C472.2,624 471,575 469.8,526 C469.8,523.7 469.8,521.3 469.7,519 C469.4,511.6 468.6,504.1 468.6,496.7 C468.6,486.9 469.1,477 469.8,467.2 C469.9,464.9 470.6,462.6 471,460.3 C472,455 473,449.8 474,444.5 C474.4,442.2 474.4,439.8 475.3,437.7 C478.5,429.1 481.4,420.3 486.2,412.4 C490.3,405.7 495.5,399.4 501.6,394.4 C507.4,389.7 514.6,387.2 521.3,384 C523.4,382.9 525.7,382.3 527.8,381.5 C655.9,334.5 783.9,287.4 911.9,240.3 C914.1,239.5 916.3,238.7 918.5,237.9"/>
<path class="r" d="M479.9,757 C479.9,754.7 479.9,752.3 479.8,750 C479.4,729 478.9,708 478.5,687 C478.4,684.7 478.4,682.3 478.3,680 C478.3,677.7 478.2,675.3 478.2,673 C477,624 475.8,575 474.7,526 C474.6,523.7 474.6,521.3 474.5,519 C474.2,511.6 473.5,504.1 473.6,496.7 C473.6,487 473.5,477.3 474.6,467.7 C475.7,458 477.2,448.2 480.1,438.8 C482.7,430 486.2,421.3 490.9,413.5 C495,406.8 500.1,400.6 506.1,395.6 C511.7,391 518.8,388.5 525.3,385.2 C527.4,384.2 529.7,383.6 531.9,382.8 C660.1,335.5 788.3,288.3 916.6,241 C918.8,240.2 920.9,239.4 923.1,238.6"/>
<path class="r" d="M482.5,757 C482.4,754.7 482.4,752.3 482.3,750 C481.9,729 481.4,708 481,687 C481,684.7 480.9,682.3 480.9,680 C480.8,677.7 480.7,675.3 480.7,673 C479.5,624 478.4,575 477.2,526 C477.2,523.7 477.1,521.3 477,519 C476.8,511.6 476.1,504.1 476.1,496.7 C476.2,487.1 476.1,477.5 477.2,468 C478.3,458.4 479.8,448.7 482.6,439.4 C485.2,430.6 488.7,421.9 493.4,414 C497.4,407.4 502.5,401.2 508.4,396.2 C514,391.7 521,389.1 527.4,385.9 C529.5,384.8 531.8,384.3 534,383.5 C662.3,336.1 790.7,288.8 919,241.4 C921.2,240.6 923.4,239.8 925.6,239"/>
<path class="r" d="M487.3,757 C487.3,754.7 487.2,752.3 487.2,750 C486.7,729 486.3,708 485.8,687 C485.8,684.7 485.7,682.3 485.7,680 C485.6,677.7 485.6,675.3 485.5,673 C484.3,624 483.2,575 482,526 C482,523.7 481.9,521.3 481.9,519 C481.6,511.6 481,504.1 481.1,496.7 C481.1,487.3 481,477.9 482,468.6 C483.1,459.1 484.7,449.7 487.4,440.5 C490.1,431.7 493.4,423 498.1,415 C502,408.5 507,402.4 512.9,397.5 C518.4,392.9 525.2,390.3 531.5,387.1 C533.6,386.1 535.9,385.5 538,384.7 C666.6,337.2 795.1,289.7 923.7,242.1 C925.9,241.3 928.1,240.5 930.3,239.7"/>
<path class="r" d="M489.9,757 C489.8,754.7 489.8,752.3 489.7,750 C489.2,729 488.8,708 488.3,687 C488.3,684.7 488.2,682.3 488.2,680 C488.1,677.7 488.1,675.3 488,673 C486.9,624 485.7,575 484.6,526 C484.5,523.7 484.5,521.3 484.4,519 C484.2,511.6 483.6,504.1 483.6,496.7 C483.7,487.4 483.5,478.1 484.6,468.9 C485.6,459.5 487.2,450.2 489.9,441.1 C492.6,432.3 495.9,423.5 500.6,415.6 C504.5,409 509.4,403 515.3,398.1 C520.6,393.6 527.4,391 533.6,387.8 C535.7,386.7 538,386.2 540.2,385.4 C668.8,337.8 797.5,290.1 926.1,242.5 C928.3,241.7 930.5,240.9 932.7,240.1"/>
<path class="r" d="M494.7,757 C494.6,754.7 494.6,752.3 494.5,750 C494.1,729 493.6,708 493.1,687 C493.1,684.7 493,682.3 493,680 C492.9,677.7 492.9,675.3 492.8,673 C491.7,624 490.5,575 489.4,526 C489.3,523.7 489.3,521.3 489.2,519 C489,511.6 488.5,504.1 488.6,496.7 C488.6,487.6 488.4,478.5 489.4,469.4 C490.5,460.3 492.1,451.1 494.8,442.3 C497.4,433.4 500.7,424.6 505.3,416.6 C509.1,410.1 514,404.2 519.7,399.3 C525,394.9 531.5,392.2 537.6,389.1 C539.7,388 542,387.4 544.2,386.6 C673.1,338.8 801.9,291 930.8,243.2 C933,242.4 935.2,241.6 937.4,240.8"/>
<path class="r" d="M497.2,757 C497.2,754.7 497.1,752.3 497.1,750 C496.6,729 496.1,708 495.7,687 C495.6,684.7 495.6,682.3 495.5,680 C495.5,677.7 495.4,675.3 495.3,673 C494.2,624 493.1,575 491.9,526 C491.9,523.7 491.8,521.3 491.8,519 C491.6,511.6 491.1,504.1 491.1,496.7 C491.2,487.7 491,478.7 492,469.7 C493,460.7 494.7,451.6 497.3,442.9 C500,434 503.2,425.2 507.8,417.1 C511.5,410.7 516.4,404.8 522.1,400 C527.2,395.6 533.7,392.9 539.8,389.7 C541.8,388.6 544.1,388.1 546.3,387.3 C675.3,339.4 804.3,291.5 933.3,243.6 C935.4,242.8 937.6,242 939.8,241.2"/>
<path class="r" d="M502.1,757 C502,754.7 502,752.3 501.9,750 C501.4,729 501,708 500.5,687 C500.4,684.7 500.4,682.3 500.3,680 C500.3,677.7 500.2,675.3 500.2,673 C499,624 497.9,575 496.8,526 C496.7,523.7 496.6,521.3 496.6,519 C496.4,511.6 496,504.1 496.1,496.7 C496.1,487.9 495.8,479 496.8,470.3 C497.9,461.4 499.5,452.6 502.1,444 C504.8,435.1 507.9,426.2 512.5,418.2 C516.2,411.8 521,406 526.5,401.2 C531.6,396.8 537.9,394.1 543.8,391 C545.9,389.9 548.2,389.4 550.4,388.5 C679.6,340.5 808.7,292.4 937.9,244.3 C940.1,243.5 942.3,242.7 944.5,241.9"/>
<path class="r" d="M504.6,757 C504.6,754.7 504.5,752.3 504.5,750 C504,729 503.5,708 503,687 C502.9,684.7 502.9,682.3 502.8,680 C502.8,677.7 502.7,675.3 502.7,673 C501.5,624 500.4,575 499.3,526 C499.2,523.7 499.2,521.3 499.1,519 C499,511.6 498.6,504.1 498.6,496.7 C498.7,488 498.4,479.2 499.4,470.6 C500.4,461.8 502.1,453.1 504.6,444.6 C507.3,435.7 510.4,426.8 515,418.7 C518.6,412.4 523.4,406.7 528.9,401.9 C533.9,397.5 540.1,394.8 545.9,391.6 C548,390.5 550.3,390 552.5,389.2 C681.8,341 811.1,292.9 940.4,244.7 C942.6,243.9 944.8,243.1 946.9,242.3"/>
<path class="r" d="M508.3,757 C508.2,754.7 508.2,752.3 508.1,750 C507.6,729 507.2,708 506.7,687 C506.6,684.7 506.6,682.3 506.5,680 C506.4,677.7 506.4,675.3 506.3,673 C505.2,624 504.1,575 503,526 C502.9,523.7 502.8,521.3 502.8,519 C502.7,511.6 502.4,504.1 502.4,496.7 C502.5,488.1 502.1,479.5 503.1,471 C504.1,462.4 505.8,453.8 508.3,445.5 C511,436.6 514,427.6 518.6,419.5 C522.1,413.2 526.9,407.6 532.3,402.8 C537.2,398.5 543.3,395.7 549,392.6 C551,391.5 553.4,391 555.6,390.2 C685,341.9 814.5,293.5 943.9,245.2 C946.1,244.4 948.3,243.6 950.5,242.8"/>
</g>
<path class="k" d="M462.2,757 C462.2,754.7 462.1,752.3 462.1,750 C461.7,729 461.2,708 460.8,687 C460.8,684.7 460.8,682.3 460.7,680 C460.6,677.7 460.6,675.3 460.5,673 C459.3,624 458.2,575 457,526 C456.9,523.7 456.9,521.3 456.8,519 C456.4,511.6 455.8,504.1 455.5,496.7 C455.4,494.4 455.7,492 455.8,489.7 C456,484 456.3,478.4 456.5,472.7 C456.6,470.4 456.5,468 456.8,465.7 C457.1,463.4 457.6,461.1 458,458.8 C459.1,453 460.1,447.3 461.2,441.5 C461.6,439.2 461.5,436.8 462.4,434.6 C465.7,426.1 468.8,417.4 473.6,409.7 C478,402.8 483.3,396.2 489.7,391.1 C495.8,386.3 503.5,383.9 510.5,380.6 C512.6,379.6 514.9,379 517.1,378.2 C644.5,331.6 772,285 899.4,238.4 C901.6,237.6 903.7,236.5 906,236 C908,235.5 910,235.3 912,235.4 C914.3,235.5 916.6,236 918.9,236.3 C926.8,237.4 934.6,238.4 942.5,239.5 C944.8,239.8 947.2,239.7 949.4,240.4 C953.7,241.7 958.2,243.1 962,245.5 C965.6,247.8 968.7,250.9 971.5,254.2 C974.3,257.5 976.6,261.2 978.5,265 C980.3,268.6 981.4,272.5 982.6,276.3 C984,280.8 985.5,285.3 986.3,290 C987.2,294.9 987.3,300 987.6,305 C987.7,307.3 987.6,309.7 987.6,312 C987.6,320.7 987.6,329.3 987.6,338 C987.6,340.3 987.6,342.7 987.6,345"/>
<path class="k" d="M514.6,758.7 C514.5,756.4 514.5,754 514.4,751.7 C514,730.1 513.5,708.6 513.1,687 C513,684.7 513,682.3 512.9,680 C512.8,677.7 512.8,675.3 512.7,673 C511.6,631 510.6,589 509.5,547 C509.4,544.7 509.3,542.3 509.3,540 C509.3,537.7 509.3,535.3 509.3,533 C509.2,523 509.1,513 509,503 C509,500.7 509,498.3 509,496 C509.1,488 508.7,479.9 509.6,471.9 C510.6,463.5 512.2,455.1 514.6,447 C517.2,438.5 520.1,430 524.5,422.2 C527.7,416.5 532.1,411.5 537,407.2 C541.3,403.4 546.8,401.2 551.9,398.5 C554,397.4 556.3,396.9 558.5,396.1 C686.6,348.3 814.7,300.5 942.8,252.7 C945,251.9 947.1,250.7 949.4,250.3 C951.9,249.8 954.6,249.1 957,250 C960.5,251.3 963.4,253.8 966,256.4 C968.6,258.9 970.6,262 972.5,265 C974.3,267.8 975.7,270.9 977,274 C978.6,277.9 980,281.9 981,286 C982.1,290.6 982.6,295.3 983.1,300 C983.3,302.3 983.1,304.7 983.2,307 C983.3,317.3 983.3,327.7 983.4,338 C983.5,340.3 983.5,342.7 983.5,345"/>
<path class="k" d="M462.2,757 C462.6,759.3 462.6,761.8 463.5,764 C464.3,765.8 466,767.2 467.3,768.7 C468.5,770.2 470,771.4 471,773 C472.5,775.3 473.5,777.9 474.7,780.3 L481.4,781 L481.4,783.6 C484.2,783.9 486.9,784.8 489.7,784.4 C493.4,783.9 497,782.7 500.4,781.1 C503.4,779.6 506.4,777.8 508.7,775.3 C510.9,773 512.6,770 513.7,767 C514.6,764.4 514.3,761.5 514.6,758.7"/>
<path class="k" d="M476.5,738.5 C475.9,740 474.6,741.4 474.6,743 C474.5,748.7 475,754.4 476,760 C476.5,762.5 477.3,765.1 479,767 C480.8,768.9 483.5,769.9 486,770.8 C489.9,772.1 493.9,773 498,773.5 C499.8,773.7 501.9,773.8 503.5,773 C504.5,772.5 504.9,771.1 505,770 C505.4,762.7 505.6,755.3 504.7,748 C504.5,746.7 502.9,746 502,745 C501,744.5 499.7,744.4 499,743.5 C498.1,742.4 498,740.8 497.5,739.5 C496,739.1 494.5,738.7 493,738.3 C491.3,737.8 489.7,737.3 488,736.8 C486,736.7 484,736.9 482,736.6 C480.8,736.4 479.7,735.9 478.5,735.6 L476.5,738.5"/>
<path class="t" d="M474.6,744.5 C473.8,745 472.4,745.1 472.3,746 C471.7,750.6 472,755.4 472.5,760 C472.8,762.7 473.3,765.5 474.5,768 C475.5,770.1 477.5,771.7 479,773.5"/>
<path class="t" d="M484.5,779.3 L484.7,783.6"/>
<path class="t" d="M489,778.9 L489.2,783.1"/>
<path class="t" d="M493.5,778.6 L493.7,782.6"/>
<path class="t" d="M498,778.2 L498.2,782.1"/>
<path class="t" d="M502.5,777.9 L502.7,781.6"/>
<path class="t w" d="M560.7,373 l6.2,-2.3 l0.5,2.6 l-6.2,2.3 Z"/>
<path class="t" d="M570.5,371.8 l1.6,-0.6"/>
<path class="t w" d="M664.7,335 l6.2,-2.3 l0.5,2.6 l-6.2,2.3 Z"/>
<path class="t" d="M674.5,333.8 l1.6,-0.6"/>
<path class="t w" d="M789.7,289.6 l6.2,-2.3 l0.5,2.6 l-6.2,2.3 Z"/>
<path class="t" d="M799.5,288.4 l1.6,-0.6"/>
<path class="t w" d="M884.2,255.3 l6.2,-2.3 l0.5,2.6 l-6.2,2.3 Z"/>
<path class="t" d="M894,254.1 l1.6,-0.6"/>
</g>
<g id="strip">
<path class="k w" d="M559.4,307.3 L559.4,314.5 C560.4,317.1 570.2,317.1 571.2,314.5 L571.2,303.3"/>
<path class="k w" d="M663.7,270.4 L663.7,277.6 C664.7,280.2 674.5,280.2 675.5,277.6 L675.5,266.4"/>
<path class="k w" d="M788.4,225.6 L788.4,232.8 C789.4,235.4 799.2,235.4 800.2,232.8 L800.2,221.6"/>
<path class="k w" d="M883.6,192 L883.6,199.2 C884.6,201.8 894.4,201.8 895.4,199.2 L895.4,188"/>
<path class="k w" d="M506.2,301.2 C508.4,300.4 510.6,299.7 512.8,298.9 C640.9,254.3 768.9,209.6 897,165 C899.2,164.2 901.4,163.5 903.6,162.7 C905.9,163 908.2,163.4 910.5,163.7 C919.5,165 928.6,166.3 937.6,167.6 C939.9,167.9 942.3,167.9 944.5,168.6 C945.5,168.9 946.8,169.4 947,170.4 C947.2,171.1 945.8,171.3 945.2,171.8 C943,172.6 940.8,173.3 938.6,174.1 C810.1,219.2 681.6,264.2 553.1,309.3 C550.9,310.1 548.7,310.8 546.5,311.6 C545.7,311.9 544.9,312.4 544,312.4 C541.7,312.4 539.4,311.7 537.1,311.4 C528,310.1 519,308.9 509.9,307.6 C507.6,307.3 505.2,307.3 503,306.6 C502.1,306.3 501,305.6 501,304.7 C501,303.7 502.2,303 503,302.4 C503.9,301.8 505.1,301.6 506.2,301.2"/>
<path class="t" d="M506,304.5 L545.5,309.6 L941,169.8"/>
</g>
<g id="knob9">
<ellipse class="t w" cx="508.8" cy="1229.6" rx="21" ry="30" transform="rotate(-10 508.8 1229.6)"/>
<ellipse class="t" cx="507.9" cy="1229.6" rx="17" ry="26" transform="rotate(-10 507.9 1229.6)"/>
<ellipse class="t" cx="506.9" cy="1229.6" rx="12" ry="20" transform="rotate(-10 506.9 1229.6)"/>
<path class="k w" d="M494.3,1205.4 C494.3,1203.1 494.3,1200.8 494.3,1198.4 C494.3,1192.8 494.3,1187.1 494.3,1181.5 C494.3,1179.1 494.2,1176.8 494.3,1174.5 C494.5,1171.6 494.2,1168.5 495.3,1165.8 C496.3,1163.3 497.9,1160.9 500.1,1159.4 C502.3,1157.9 505.2,1156.8 507.9,1157.1 C511,1157.4 513.8,1159.3 516.6,1160.9 C518.7,1162.2 520.4,1164.2 522.4,1165.8 L520.4,1170 C518.8,1169.3 517.3,1168.3 515.6,1167.9 C514.3,1167.6 512.8,1167.3 511.7,1168.1 C510.5,1169 510.1,1170.7 509.8,1172.2 C509.4,1174.5 509.7,1176.8 509.7,1179.2 C509.6,1186.2 509.6,1193.3 509.5,1200.4 C509.5,1202.7 509.2,1205 509.4,1207.4 C510,1215.1 511,1222.8 511.7,1230.6 C512.3,1237 513.9,1243.5 513.3,1249.9 C512.9,1254 511.4,1258.2 508.8,1261.5 C506.4,1264.6 502.8,1266.9 499.2,1268.3 C495.8,1269.5 492.1,1269.7 488.5,1269.2 C486.7,1269 485.3,1267.3 483.7,1266.3 L463.4,1277 L454.7,1275 C455,1272.7 455.4,1270.4 455.8,1268.1 C457,1260.5 458.2,1252.8 459.4,1245.2 C459.8,1242.9 460.1,1240.6 460.5,1238.3 C460.5,1232.5 458.7,1226.4 460.5,1220.9 C461.8,1216.8 465.6,1213.7 469.2,1211.2 C473.2,1208.5 478,1206.9 482.7,1205.8 C486.5,1204.9 490.5,1205.5 494.3,1205.4"/>
<path class="t" d="M516.6,1171.6 C516.5,1173.9 516.5,1176.2 516.5,1178.6 C516.3,1185.8 516.2,1193.1 516.1,1200.4 C516.1,1202.7 515.8,1205 516,1207.4 C516.5,1215.1 517.4,1222.8 517.9,1230.6 C518.3,1235.7 519.2,1240.9 518.5,1246 C517.9,1250.1 515.5,1253.8 514.1,1257.6"/>
<path class="k w" d="M471.1,1220.9 L475,1218 C482.1,1220.2 489.6,1221.5 496.3,1224.8 C498.5,1225.9 500.7,1228.1 501.1,1230.6 C502.4,1238.8 501.1,1247.3 501.1,1255.7 L498.2,1259.2 L487.6,1255.7 L486.6,1234.4 L471.1,1226.7 L471.1,1220.9"/>
<path class="t" d="M477.9,1220.9 C478.2,1224.1 477.2,1227.8 478.9,1230.6 C481,1234.1 485.3,1235.7 488.5,1238.3"/>
<path class="t" d="M482.7,1222.4 C485.3,1227.7 489.1,1232.6 490.5,1238.3 C491.7,1243.3 490.5,1248.6 490.5,1253.8"/>
<path class="t" d="M487.6,1224.4 C490.1,1229 494.1,1233.1 495.3,1238.3 C496.7,1244.3 495.3,1250.5 495.3,1256.7"/>
<path class="m w" d="M436.3,1238.3 C438.9,1236.4 441.1,1233.8 444,1232.5 C450.2,1229.8 456.7,1227.3 463.4,1226.7 C467.4,1226.3 471.3,1228 475,1229.6 C478.2,1231 480.8,1233.5 483.7,1235.4 C484.3,1238.9 485.8,1242.4 485.6,1246 C485.4,1251.3 483.7,1256.3 482.7,1261.5 L463.4,1277.9 C460.5,1277.1 457.5,1276.6 454.7,1275.4 C452.9,1274.7 451.5,1273.2 449.8,1272.1 C446.6,1269.9 442.6,1268.5 440.2,1265.4 C437.6,1262.1 435.9,1257.9 435.3,1253.8 C434.6,1248.7 436,1243.5 436.3,1238.3"/>
<ellipse class="m" cx="461.5" cy="1250.9" rx="6.2" ry="10.5" transform="rotate(-8 461.5 1250.9)"/>
<path class="t" d="M463.4,1226.7 C464.7,1230.6 466.4,1234.3 467.3,1238.3 C468.3,1243.4 469.7,1248.6 469.2,1253.8 C468.4,1262 465.3,1269.9 463.4,1277.9"/>
<path class="t" d="M475,1229.6 C476,1233.1 477.3,1236.6 477.9,1240.2 C478.6,1244.7 479.6,1249.3 478.9,1253.8 C478,1259.2 475,1264.1 473.1,1269.2"/>
<path class="t" d="M444,1232.5 C447.9,1233.5 451.8,1234.4 455.7,1235.4 C459.5,1236.4 463.4,1237.3 467.3,1238.3"/>
<path class="t" d="M447.9,1233.5 C449.8,1232.5 451.6,1230.4 453.7,1230.6 C457.8,1230.8 461.5,1233.1 465.3,1234.4"/>
<path class="m w" d="M418.9,1248.4 C420.8,1247.3 422.6,1245.8 424.7,1245.3 C427.8,1244.4 431.2,1244.5 434.4,1244.1 L441.1,1250.3 L440.6,1259.2 L434.4,1265.4 L422.8,1263.4 L418.9,1255.7 L418.9,1248.4"/>
<path class="t" d="M420.8,1253.8 C425.4,1253 429.8,1251 434.4,1251.4 C437,1251.7 438.9,1254.3 441.1,1255.7"/>
<path class="m w" d="M436.7,1265.4 L445,1266.3 L451.8,1274.1 L445,1284.7 L436.7,1287 L434,1283.7 L436.7,1265.4"/>
<path class="t" d="M438.2,1273.1 C440.5,1273.4 443.9,1272.1 445,1274.1 C446.8,1277.1 445,1281.2 445,1284.7"/>
<path class="m" d="M409.2,1259.2 L419.3,1253.8"/>
<path class="m" d="M423.7,1284.7 L434.4,1287"/>
<path class="t" d="M413.1,1263.4 C416.3,1265.4 420.8,1266 422.8,1269.2 C425.1,1273.1 424.1,1278.3 424.7,1282.8"/>
<path class="nf" d="M326.2,1271.9 C327.2,1269.8 328.1,1267.6 329.2,1265.6 C330.3,1263.6 331.6,1261.7 333,1259.9 C334.3,1258.2 335.8,1256.5 337.4,1254.9 C339,1253.4 340.8,1252 342.6,1250.7 C344.4,1249.5 346.3,1248.3 348.2,1247.4 C350.2,1246.4 352.3,1245.6 354.4,1244.9 C356.5,1244.2 358.7,1243.7 360.9,1243.4 C363.1,1243.1 365.3,1242.9 367.6,1242.9 C369.9,1242.9 372.2,1243 374.4,1243.3 C376.7,1243.7 379,1244.1 381.3,1244.8 C383.6,1245.4 385.9,1246.2 388.1,1247.2 C390.3,1248.1 393.2,1248.5 394.6,1250.5 C396,1252.5 395.3,1255.4 395.7,1257.8 L403.4,1253.8 L409.2,1261.5 C410.7,1263.7 412.2,1265.8 413.7,1268.1 C415.2,1270.4 416.8,1272.8 418.2,1275.2 C419.5,1277.7 420.7,1280.3 421.8,1282.9 C422.8,1285.5 423.7,1288.2 424.4,1290.9 C425.1,1293.6 425.6,1296.3 426,1299.1 C426.3,1301.8 426.5,1304.5 426.5,1307.3 C426.5,1310 426.4,1312.6 426,1315.3 C425.7,1317.9 425.2,1320.5 424.5,1323 C423.8,1325.5 422.9,1327.9 421.9,1330.2 C420.8,1332.5 419.6,1334.8 418.3,1336.9 C417,1338.9 415.5,1340.9 413.8,1342.7 C412.2,1344.5 410.4,1346.2 408.6,1347.7 C406.7,1349.2 404.7,1350.5 402.6,1351.7 C400.5,1352.8 398.3,1353.8 396,1354.6 C393.8,1355.4 391.4,1356 389,1356.4 C386.6,1356.9 384.2,1357.1 381.7,1357.1 C379.2,1357.1 376.7,1357 374.3,1356.6 C371.7,1356.2 369.3,1355.5 366.8,1355 Z"/>
<path class="k" d="M326.2,1271.9 C327.2,1269.8 328.1,1267.6 329.2,1265.6 C330.3,1263.6 331.6,1261.7 333,1259.9 C334.3,1258.2 335.8,1256.5 337.4,1254.9 C339,1253.4 340.8,1252 342.6,1250.7 C344.4,1249.5 346.3,1248.3 348.2,1247.4 C350.2,1246.4 352.3,1245.6 354.4,1244.9 C356.5,1244.2 358.7,1243.7 360.9,1243.4 C363.1,1243.1 365.3,1242.9 367.6,1242.9 C369.9,1242.9 372.2,1243 374.4,1243.3 C376.7,1243.7 379,1244.1 381.3,1244.8 C383.6,1245.4 385.9,1246.2 388.1,1247.2 C390.3,1248.1 393.2,1248.5 394.6,1250.5 C396,1252.5 395.3,1255.4 395.7,1257.8 L403.4,1253.8 L409.2,1261.5 C410.7,1263.7 412.2,1265.8 413.7,1268.1 C415.2,1270.4 416.8,1272.8 418.2,1275.2 C419.5,1277.7 420.7,1280.3 421.8,1282.9 C422.8,1285.5 423.7,1288.2 424.4,1290.9 C425.1,1293.6 425.6,1296.3 426,1299.1 C426.3,1301.8 426.5,1304.5 426.5,1307.3 C426.5,1310 426.4,1312.6 426,1315.3 C425.7,1317.9 425.2,1320.5 424.5,1323 C423.8,1325.5 422.9,1327.9 421.9,1330.2 C420.8,1332.5 419.6,1334.8 418.3,1336.9 C417,1338.9 415.5,1340.9 413.8,1342.7 C412.2,1344.5 410.4,1346.2 408.6,1347.7 C406.7,1349.2 404.7,1350.5 402.6,1351.7 C400.5,1352.8 398.3,1353.8 396,1354.6 C393.8,1355.4 391.4,1356 389,1356.4 C386.6,1356.9 384.2,1357.1 381.7,1357.1 C379.2,1357.1 376.7,1357 374.3,1356.6 C371.7,1356.2 369.3,1355.5 366.8,1355"/>
<path class="t" d="M322.7,1271.2 C323.8,1269.5 324.8,1267.6 326,1266 C327.3,1264.4 328.6,1262.8 330.1,1261.5 C331.5,1260.1 333.1,1258.9 334.8,1257.8 C336.4,1256.7 338.2,1255.7 340,1255 C341.8,1254.2 343.7,1253.6 345.6,1253.1 C347.6,1252.6 349.6,1252.3 351.6,1252.2 C353.7,1252.1 355.8,1252.1 357.8,1252.3 C359.9,1252.5 362.1,1252.9 364.1,1253.4 C366.3,1254 368.4,1254.7 370.4,1255.5 C372.5,1256.4 374.6,1257.4 376.5,1258.5 C378.6,1259.7 380.6,1261 382.4,1262.4 C384.4,1263.8 386.2,1265.4 387.9,1267.1 C389.7,1268.8 391.4,1270.6 393,1272.5 C394.6,1274.4 396.1,1276.4 397.4,1278.5 C398.8,1280.5 400.1,1282.7 401.2,1284.9 C402.4,1287.2 403.4,1289.5 404.3,1291.8 C405.2,1294.1 405.9,1296.5 406.6,1298.9 C407.2,1301.3 407.7,1303.7 408,1306.1 C408.4,1308.5 408.5,1310.9 408.6,1313.3 C408.6,1315.6 408.6,1317.9 408.3,1320.3 C408.1,1322.5 407.7,1324.7 407.1,1326.9 C406.6,1329.1 406,1331.2 405.1,1333.2 C404.4,1335.2 403.4,1337.1 402.3,1338.9 C401.3,1340.6 400.1,1342.3 398.8,1343.9 C397.5,1345.4 396.1,1346.9 394.5,1348.2 C393,1349.5 391.4,1350.6 389.7,1351.6 C388,1352.6 386.2,1353.4 384.3,1354.1 C382.4,1354.8 380.5,1355.3 378.5,1355.7 C376.5,1356 374.5,1356.2 372.5,1356.3 C370.4,1356.3 368.3,1356 366.2,1355.8"/>
<path class="t" d="M325.9,1272.8 C326.9,1271.2 327.9,1269.4 329.1,1267.8 C330.2,1266.3 331.5,1264.8 332.9,1263.5 C334.3,1262.2 335.8,1261 337.4,1259.9 C339,1258.9 340.7,1258 342.4,1257.3 C344.1,1256.5 346,1255.9 347.8,1255.5 C349.7,1255 351.6,1254.7 353.6,1254.6 C355.5,1254.5 357.5,1254.5 359.5,1254.7 C361.5,1254.9 363.6,1255.3 365.5,1255.8 C367.6,1256.3 369.6,1257 371.6,1257.8 C373.6,1258.6 375.6,1259.6 377.5,1260.7 C379.4,1261.8 381.3,1263 383.1,1264.4 C384.9,1265.8 386.7,1267.3 388.4,1268.9 C390.1,1270.5 391.7,1272.3 393.2,1274.1 C394.7,1275.9 396.2,1277.8 397.5,1279.8 C398.8,1281.8 400,1283.9 401.1,1286.1 C402.2,1288.2 403.2,1290.4 404.1,1292.6 C404.9,1294.9 405.7,1297.1 406.3,1299.5 C406.8,1301.7 407.3,1304 407.6,1306.4 C408,1308.6 408.2,1310.9 408.2,1313.2 C408.3,1315.5 408.2,1317.7 407.9,1319.9 C407.7,1322.1 407.3,1324.2 406.8,1326.3 C406.3,1328.4 405.7,1330.4 404.9,1332.3 C404.1,1334.2 403.3,1336 402.2,1337.8 C401.2,1339.5 400.1,1341.1 398.8,1342.6 C397.6,1344.1 396.2,1345.5 394.7,1346.7 C393.3,1347.9 391.7,1349 390.1,1350 C388.5,1350.9 386.7,1351.7 385,1352.4 C383.2,1353.1 381.3,1353.6 379.4,1353.9 C377.5,1354.2 375.6,1354.4 373.6,1354.4 C371.6,1354.5 369.6,1354.2 367.6,1354"/>
<path class="t" d="M349.7,1279.1 C350.8,1278.6 351.8,1278.1 353,1277.7 C354.1,1277.4 355.3,1277.2 356.5,1277.1 C357.8,1277 359,1277.1 360.3,1277.2 C361.6,1277.4 362.8,1277.6 364.1,1278 C365.4,1278.4 366.7,1278.9 367.9,1279.5 C369.2,1280.1 370.5,1280.8 371.7,1281.6 C372.9,1282.5 374.1,1283.4 375.2,1284.4 C376.4,1285.4 377.4,1286.5 378.5,1287.6 C379.5,1288.8 380.5,1290.1 381.4,1291.4 C382.3,1292.7 383.1,1294 383.9,1295.4 C384.6,1296.8 385.3,1298.3 385.9,1299.8 C386.4,1301.2 386.9,1302.8 387.3,1304.3 C387.7,1305.8 388,1307.3 388.2,1308.8 C388.4,1310.3 388.5,1311.8 388.5,1313.3 C388.5,1314.7 388.4,1316.2 388.2,1317.6 C388,1318.9 387.7,1320.3 387.3,1321.6 C386.9,1322.8 386.4,1324 385.8,1325.2 C385.2,1326.3 384.5,1327.4 383.8,1328.3 C383,1329.3 382.2,1330.2 381.3,1330.9 C380.3,1331.7 379.3,1332.3 378.3,1332.9"/>
<path class="k" d="M353.6,1283.3 C354.5,1283 355.4,1282.7 356.3,1282.5 C357.2,1282.3 358.2,1282.2 359.2,1282.2 C360.2,1282.2 361.2,1282.3 362.1,1282.4 C363.2,1282.6 364.2,1282.8 365.2,1283.1 C366.2,1283.4 367.2,1283.9 368.2,1284.3 C369.2,1284.8 370.1,1285.4 371.1,1286 C372,1286.6 372.9,1287.3 373.8,1288.1 C374.7,1288.8 375.6,1289.6 376.4,1290.5 C377.2,1291.4 378,1292.3 378.7,1293.3 C379.4,1294.3 380.1,1295.3 380.7,1296.4 C381.3,1297.4 381.8,1298.5 382.3,1299.6 C382.8,1300.8 383.2,1301.9 383.6,1303.1 C384,1304.2 384.2,1305.4 384.5,1306.6 C384.7,1307.7 384.8,1308.9 384.9,1310 C385,1311.2 385,1312.3 384.9,1313.5 C384.9,1314.6 384.7,1315.6 384.5,1316.7 C384.3,1317.8 384,1318.8 383.7,1319.8 C383.3,1320.7 382.9,1321.7 382.4,1322.6 C381.9,1323.4 381.4,1324.2 380.8,1325 C380.2,1325.8 379.4,1326.4 378.8,1327.1"/>
<ellipse class="k w" cx="329.9" cy="1319.7" rx="42.3" ry="54.9" transform="rotate(-28 329.9 1319.7)"/>
<path class="t" d="M321.8,1266.9 C329,1269.3 337.2,1269.8 343.5,1274.1 C351.3,1279.3 356.9,1287.1 362.8,1294.4 C364.3,1296.2 364.6,1298.7 365.4,1300.9 C367.6,1306.2 369.7,1311.6 371.8,1316.9 C372.7,1319.1 374,1321.1 374.4,1323.4 C375.6,1329.8 377.6,1336.3 376.7,1342.7 C375.9,1348.9 372,1354.3 369.6,1360.1"/>
<path class="t" d="M328.9,1311.1 C326.2,1309.7 323.8,1307 320.8,1307 C318,1306.9 314.8,1308.4 313.3,1310.8 C311.8,1313.1 311.8,1316.7 313.3,1319 C314.8,1321.3 318.1,1322.6 320.9,1322.4 C323.6,1322.1 325.9,1319.9 327.6,1317.7 C329.1,1315.8 328.8,1312.9 330,1310.8 C331.2,1308.9 332.5,1306.8 334.5,1305.8 C335.9,1305.2 337.7,1305.9 339,1306.6 C340.3,1307.4 341.3,1308.7 341.6,1310.1 C341.8,1311 341,1311.8 340.3,1312.4 C340.1,1312.6 339.4,1312.3 339.4,1311.9 C339.5,1311 341.1,1310.1 340.5,1309.3 C339.7,1308.3 337.7,1307.6 336.8,1308.4 C335.5,1309.6 335,1312.2 336,1313.6 C337.2,1315.3 340,1316.6 342,1315.8 C344.2,1314.9 345.6,1311.9 345.4,1309.6 C345.2,1307.1 343.2,1304.7 341,1303.4 C338.7,1302 335.6,1301.3 333.1,1302.3 C330.3,1303.4 328.4,1306.3 326.8,1308.9 C325.5,1310.8 325.8,1313.5 324.5,1315.5 C323.6,1316.9 322.1,1318.3 320.4,1318.6 C319,1318.8 317.3,1318.1 316.4,1316.9 C315.7,1315.8 315.7,1313.9 316.5,1312.8 C317.3,1311.5 319,1310.5 320.5,1310.8 C323,1311.2 324.6,1314.3 327.1,1314.4 C328.4,1314.5 328.3,1312.2 328.9,1311.1"/>
<path class="t" d="M327.7,1311.4 C328.5,1313.8 329.8,1316.1 330,1318.7 C330.1,1320.7 329.4,1322.7 328.6,1324.6 C327.7,1326.6 326.2,1328.2 324.9,1330 C323.7,1331.8 321.4,1333.1 321.3,1335.2 C321.2,1337.7 322.6,1340.4 324.5,1341.9 C326.5,1343.5 329.4,1344.1 331.9,1343.6 C334.2,1343.1 336.8,1341.4 337.5,1339.1 C338.3,1336.8 337.6,1333.7 335.8,1332 C334.2,1330.4 331.2,1330.3 329.1,1331.2 C328,1331.7 327.9,1334.1 328.9,1335 C330,1336 332.1,1334.2 333.4,1334.9 C334.3,1335.4 334.4,1336.9 334,1337.8 C333.5,1338.9 332.3,1339.7 331.1,1339.9 C329.7,1340.1 328,1339.8 326.9,1338.9 C325.8,1338.2 324.9,1336.8 325.1,1335.5 C325.3,1334.1 327.1,1333.4 328,1332.2 C329.5,1330.2 331.1,1328.3 332.1,1326.1 C333.1,1323.7 333.9,1321.1 333.8,1318.5 C333.7,1315.6 333.2,1312.4 331.4,1310.3 C330.6,1309.3 329,1311 327.7,1311.4"/>
<path class="t" d="M325.4,1325 C327.3,1325.3 329.2,1325.3 331,1325.9 C332.9,1326.5 334.3,1328.5 336.2,1328.3 C337.3,1328.2 338.2,1326.3 337.6,1325.4 C336.3,1323.8 333.9,1323.4 332,1322.8 C330,1322.2 327.9,1321.2 326,1321.8 C324.9,1322.1 325.6,1323.9 325.4,1325"/>
</g>
<g id="hinge8">
<path class="k w" d="M278.8,1051.3 C280.9,1050.3 283,1049.3 285.1,1048.3 C297.6,1042.3 310.2,1036.3 322.7,1030.3 C324.8,1029.3 326.8,1028.1 329,1027.3 C329.6,1027.1 330.4,1026.9 331,1027.3 C331.5,1027.6 331.3,1028.4 331.5,1029 C331.6,1031.3 331.6,1033.7 331.7,1036 C332.1,1047.5 332.4,1059 332.8,1070.5 C332.9,1072.8 333.2,1075.2 333,1077.5 C332.9,1078.2 332.3,1078.8 332,1079.5 C329.9,1080.5 327.8,1081.5 325.7,1082.5 C313.1,1088.6 300.4,1094.6 287.8,1100.7 C285.7,1101.7 283.7,1102.9 281.5,1103.7 C281,1103.9 280.2,1103.9 279.8,1103.5 C279.4,1103.2 279.6,1102.5 279.5,1102 C279.5,1099.7 279.4,1097.3 279.4,1095 C279.2,1082.8 279.1,1070.5 278.9,1058.3 C278.9,1056 278.8,1053.6 278.8,1051.3"/>
<path class="m" d="M279.5,1076.5 L299,1068.5 L299,1072.5 L314.5,1065.5 L314.5,1058 L331.5,1051"/>
<path class="t" d="M279.5,1079.5 L299,1071.5"/>
<path class="t" d="M314.5,1061.5 L331.5,1054.5"/>
<path class="m" d="M280,1073 C278.8,1073.3 277.4,1073.1 276.5,1074 C275.8,1074.7 275.7,1076 276,1077 C276.3,1078 277,1079 278,1079.5 C278.6,1079.8 279.3,1079.2 280,1079"/>
<ellipse class="t" cx="290" cy="1057" rx="1.8" ry="3" transform="rotate(12 290 1057)"/>
<ellipse class="t" cx="323.5" cy="1041.5" rx="1.8" ry="3" transform="rotate(12 323.5 1041.5)"/>
<ellipse class="t" cx="291" cy="1088.5" rx="1.8" ry="3" transform="rotate(12 291 1088.5)"/>
<ellipse class="t" cx="324.5" cy="1072.5" rx="1.8" ry="3" transform="rotate(12 324.5 1072.5)"/>
</g>
<g id="feet">
<path class="k w" d="M432,1750 C433.2,1749.8 434.4,1749.1 435.5,1749.5 C436.5,1749.9 436.8,1751.2 437.5,1752 C438.4,1754.2 439.3,1756.3 440.2,1758.5 C442.5,1764 444.8,1769.5 447.1,1775 C448,1777.2 448.9,1779.3 449.8,1781.5 C450.2,1785.2 450.9,1788.8 451,1792.5 C451,1793.4 450.3,1794.2 450,1795 L446.5,1795 C444.2,1794.4 442,1793.8 439.7,1793.2 C428.9,1790.4 418.1,1787.6 407.3,1784.8 C405,1784.2 402.8,1783.6 400.5,1783 C399.9,1782.3 398.7,1781.9 398.6,1781 C398.3,1777.7 399.2,1774.3 399.5,1771 L401.5,1768.5 C403.5,1767.3 405.5,1766.1 407.5,1764.9 C413.7,1761.1 419.8,1757.4 426,1753.6 C428,1752.4 430,1751.2 432,1750"/>
<path class="t" d="M400,1772.5 L449,1781.5"/>
<ellipse class="t" cx="430.5" cy="1766.3" rx="5" ry="2.3" transform="rotate(0 430.5 1766.3)"/>
<path class="k w" d="M649.5,1836.5 C651.8,1836.3 654.1,1836.1 656.5,1835.9 C676.7,1834 696.8,1832.1 717,1830.2 C719.4,1830 721.7,1829.8 724,1829.6 C725,1829.9 726.5,1829.6 727,1830.5 C728.6,1833.6 729.2,1837.1 729.6,1840.5 C729.7,1841.4 728.9,1842.2 728.5,1843 C726.6,1844.3 724.7,1845.7 722.8,1847 C716.4,1851.4 710.1,1855.8 703.7,1860.2 C701.8,1861.5 700.1,1863.2 698,1864.2 C696.9,1864.7 695.7,1864.4 694.5,1864.5 C692.3,1863.9 690,1863.2 687.8,1862.6 C676.1,1859.2 664.4,1855.8 652.7,1852.4 C650.5,1851.8 648.1,1851.5 646,1850.5 C645.3,1850.1 645.1,1849.2 644.6,1848.5 L646.5,1839 L649.5,1836.5"/>
<path class="t" d="M648,1840.5 L695.8,1852.8 L728,1833"/>
<path class="t" d="M695.8,1852.8 L695.8,1863"/>
<ellipse class="t" cx="689" cy="1838.8" rx="5.4" ry="2.6" transform="rotate(0 689 1838.8)"/>
<ellipse class="t" cx="689" cy="1839.3" rx="3.6" ry="1.6" transform="rotate(0 689 1839.3)"/>
<path class="k w" d="M1029,1588.8 L1031.5,1588.5 C1033.8,1589.1 1036,1589.7 1038.3,1590.3 C1047.6,1592.8 1056.9,1595.2 1066.2,1597.7 C1068.5,1598.3 1070.8,1598.7 1073,1599.5 C1073.8,1599.8 1074.3,1600.5 1075,1601 C1075.2,1603.5 1075.7,1606 1075.6,1608.5 C1075.6,1609.3 1074.9,1609.8 1074.5,1610.5 C1072.6,1611.8 1070.6,1613.1 1068.7,1614.4 C1063.1,1618.2 1057.4,1622.1 1051.8,1625.9 C1049.9,1627.2 1048.1,1628.8 1046,1629.8 C1045.1,1630.2 1044,1630.3 1043,1630 C1042.3,1629.8 1042,1629 1041.5,1628.5 C1040.3,1626.5 1039.1,1624.5 1037.9,1622.5 C1034.3,1616.5 1030.8,1610.5 1027.2,1604.5 C1026,1602.5 1024.6,1600.6 1023.6,1598.5 C1023.2,1597.7 1023.3,1596.8 1023.2,1596 L1029,1588.8"/>
<path class="t" d="M1027,1592 L1044.5,1618 L1073.5,1601.5"/>
<path class="t" d="M1044.5,1618 L1045,1628"/>
<ellipse class="t" cx="1045" cy="1601.7" rx="4.6" ry="2.2" transform="rotate(-12 1045 1601.7)"/>
</g>
<g id="labels">
<circle class="dot" cx="936.7" cy="344.5" r="36.8"/>
<text class="num" style="letter-spacing:-1.2px" transform="translate(938.05 358.30) scale(0.739 1)" x="0" y="0">1.</text>
<circle class="dot" cx="453.3" cy="555.5" r="36.8"/>
<text class="num" transform="translate(456.75 569.30) scale(0.930 1)" x="0" y="0">2.</text>
<circle class="dot" cx="909" cy="485.2" r="36.8"/>
<text class="num" transform="translate(912.10 499.00) scale(0.915 1)" x="0" y="0">3.</text>
<circle class="dot" cx="1154.6" cy="659" r="36.8"/>
<text class="num" transform="translate(1155.15 672.80) scale(0.980 1)" x="0" y="0">4.</text>
<circle class="dot" cx="401.3" cy="802" r="36.8"/>
<text class="num" transform="translate(403.05 815.80) scale(0.954 1)" x="0" y="0">5.</text>
<circle class="dot" cx="1033.3" cy="838.3" r="36.8"/>
<text class="num" transform="translate(1036.55 852.10) scale(0.987 1)" x="0" y="0">6.</text>
<circle class="dot" cx="911.5" cy="1039.5" r="36.8"/>
<text class="num" transform="translate(914.25 1053.30) scale(0.795 1)" x="0" y="0">7.</text>
<circle class="dot" cx="215.8" cy="1038.5" r="36.8"/>
<text class="num" transform="translate(218.75 1052.30) scale(0.967 1)" x="0" y="0">8.</text>
<circle class="dot" cx="253" cy="1373" r="36.8"/>
<text class="num" transform="translate(256.20 1386.80) scale(0.968 1)" x="0" y="0">9.</text>
<circle class="dot" cx="934.5" cy="1403" r="36.8"/>
<text class="num" style="letter-spacing:-1.2px" transform="translate(935.75 1416.80) scale(0.922 1)" x="0" y="0">10.</text>
<circle class="dot" cx="255.5" cy="1658" r="36.8"/>
<text class="num" style="letter-spacing:-1.2px" transform="translate(257.45 1671.80) scale(0.745 1)" x="0" y="0">11.</text>
<circle class="dot" cx="1123.3" cy="1588" r="36.8"/>
<text class="num" style="letter-spacing:-1.2px" transform="translate(1126.25 1601.80) scale(0.867 1)" x="0" y="0">12.</text>
</g>
</svg>
</body>
</html>
